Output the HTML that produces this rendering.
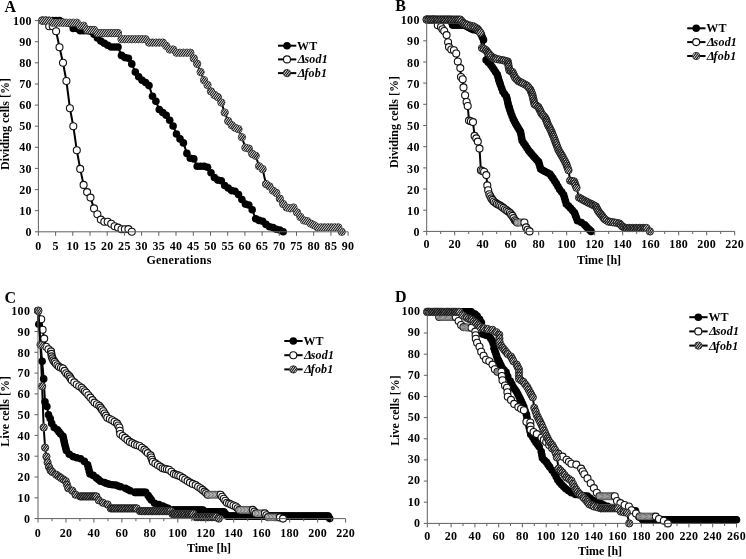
<!DOCTYPE html>
<html><head><meta charset="utf-8"><title>Figure</title>
<style>
html,body{margin:0;padding:0;background:#fff;}
body{width:746px;height:559px;overflow:hidden;}
svg{display:block;will-change:transform;opacity:0.999;}
body{-webkit-font-smoothing:antialiased;}
text{font-family:"Liberation Serif",serif;font-weight:bold;fill:#000;}
.tk{font-size:12px;letter-spacing:0.3px;}
.ti{font-size:12px;}
.lb{font-size:16px;}
.lg{font-size:12px;letter-spacing:0.2px;}
.it{font-style:italic;}
</style></head><body>
<svg width="746" height="559" viewBox="0 0 746 559">
<rect width="746" height="559" fill="#fff"/>
<g id="panelA">
<path d="M42.3,20.6 L45.8,20.6 L49.2,20.6 L52.7,20.6 L56.1,20.6 L59.5,20.6 L63,22.3 L66.4,22.7 L69.9,23.6 L73.3,28.4 L76.8,28.4 L80.2,30.7 L83.6,30.7 L87.1,30.7 L90.5,31.2 L94,34.3 L97.4,37.9 L100.8,41.1 L104.3,43.2 L107.7,45.3 L111.2,47 L114.6,47 L118,47 L121.5,55.4 L124.9,57.6 L128.4,58.2 L131.8,63.9 L135.3,72.1 L138.7,76.8 L142.1,80.2 L145.6,82.5 L149,85.6 L152.5,96.2 L155.9,101.3 L159.3,109.5 L162.8,112.5 L166.2,115.2 L169.7,120.3 L173.1,126 L176.5,134 L180,138.9 L183.4,142.9 L186.9,153.4 L190.3,158.3 L193.8,158.9 L197.2,166.3 L200.6,166.3 L204.1,166.3 L207.5,167.2 L211,172.7 L214.4,177.5 L217.8,180.1 L221.3,180.7 L224.7,185.5 L228.2,188.1 L231.6,190.6 L235,191.2 L238.5,194.6 L241.9,199.5 L245.4,204.1 L248.8,205 L252.2,209.8 L255.7,218.7 L259.1,220.4 L262.6,221.2 L266,224.4 L269.5,226.7 L272.9,227.6 L276.3,229.3 L279.8,230.1 L283.2,231.8" fill="none" stroke="#000" stroke-width="2" stroke-linejoin="round"/>
<g fill="#000" stroke="none"><circle cx="42.3" cy="20.6" r="3.8"/><circle cx="45.8" cy="20.6" r="3.8"/><circle cx="49.2" cy="20.6" r="3.8"/><circle cx="52.7" cy="20.6" r="3.8"/><circle cx="56.1" cy="20.6" r="3.8"/><circle cx="59.5" cy="20.6" r="3.8"/><circle cx="63" cy="22.3" r="3.8"/><circle cx="66.4" cy="22.7" r="3.8"/><circle cx="69.9" cy="23.6" r="3.8"/><circle cx="73.3" cy="28.4" r="3.8"/><circle cx="76.8" cy="28.4" r="3.8"/><circle cx="80.2" cy="30.7" r="3.8"/><circle cx="83.6" cy="30.7" r="3.8"/><circle cx="87.1" cy="30.7" r="3.8"/><circle cx="90.5" cy="31.2" r="3.8"/><circle cx="94" cy="34.3" r="3.8"/><circle cx="97.4" cy="37.9" r="3.8"/><circle cx="100.8" cy="41.1" r="3.8"/><circle cx="104.3" cy="43.2" r="3.8"/><circle cx="107.7" cy="45.3" r="3.8"/><circle cx="111.2" cy="47" r="3.8"/><circle cx="114.6" cy="47" r="3.8"/><circle cx="118" cy="47" r="3.8"/><circle cx="121.5" cy="55.4" r="3.8"/><circle cx="124.9" cy="57.6" r="3.8"/><circle cx="128.4" cy="58.2" r="3.8"/><circle cx="131.8" cy="63.9" r="3.8"/><circle cx="135.3" cy="72.1" r="3.8"/><circle cx="138.7" cy="76.8" r="3.8"/><circle cx="142.1" cy="80.2" r="3.8"/><circle cx="145.6" cy="82.5" r="3.8"/><circle cx="149" cy="85.6" r="3.8"/><circle cx="152.5" cy="96.2" r="3.8"/><circle cx="155.9" cy="101.3" r="3.8"/><circle cx="159.3" cy="109.5" r="3.8"/><circle cx="162.8" cy="112.5" r="3.8"/><circle cx="166.2" cy="115.2" r="3.8"/><circle cx="169.7" cy="120.3" r="3.8"/><circle cx="173.1" cy="126" r="3.8"/><circle cx="176.5" cy="134" r="3.8"/><circle cx="180" cy="138.9" r="3.8"/><circle cx="183.4" cy="142.9" r="3.8"/><circle cx="186.9" cy="153.4" r="3.8"/><circle cx="190.3" cy="158.3" r="3.8"/><circle cx="193.8" cy="158.9" r="3.8"/><circle cx="197.2" cy="166.3" r="3.8"/><circle cx="200.6" cy="166.3" r="3.8"/><circle cx="204.1" cy="166.3" r="3.8"/><circle cx="207.5" cy="167.2" r="3.8"/><circle cx="211" cy="172.7" r="3.8"/><circle cx="214.4" cy="177.5" r="3.8"/><circle cx="217.8" cy="180.1" r="3.8"/><circle cx="221.3" cy="180.7" r="3.8"/><circle cx="224.7" cy="185.5" r="3.8"/><circle cx="228.2" cy="188.1" r="3.8"/><circle cx="231.6" cy="190.6" r="3.8"/><circle cx="235" cy="191.2" r="3.8"/><circle cx="238.5" cy="194.6" r="3.8"/><circle cx="241.9" cy="199.5" r="3.8"/><circle cx="245.4" cy="204.1" r="3.8"/><circle cx="248.8" cy="205" r="3.8"/><circle cx="252.2" cy="209.8" r="3.8"/><circle cx="255.7" cy="218.7" r="3.8"/><circle cx="259.1" cy="220.4" r="3.8"/><circle cx="262.6" cy="221.2" r="3.8"/><circle cx="266" cy="224.4" r="3.8"/><circle cx="269.5" cy="226.7" r="3.8"/><circle cx="272.9" cy="227.6" r="3.8"/><circle cx="276.3" cy="229.3" r="3.8"/><circle cx="279.8" cy="230.1" r="3.8"/><circle cx="283.2" cy="231.8" r="3.8"/></g>
<path d="M42.3,20.6 L45.8,20.6 L49.2,26.3 L52.7,26.3 L56.1,31.2 L59.5,47.2 L63,62.8 L66.4,81 L69.9,108.2 L73.3,126.2 L76.8,150.3 L80.2,168.9 L83.6,184.9 L87.1,192.1 L90.5,197.6 L94,208.4 L97.4,214.3 L100.8,219.6 L104.3,221.7 L107.7,221.7 L111.2,223.8 L114.6,226.3 L118,227.6 L121.5,229.3 L124.9,229.3 L128.4,229.1 L131.8,231.8" fill="none" stroke="#000" stroke-width="2" stroke-linejoin="round"/>
<g fill="#fff" stroke="#111" stroke-width="1.1"><circle cx="42.3" cy="20.6" r="3.5"/><circle cx="45.8" cy="20.6" r="3.5"/><circle cx="49.2" cy="26.3" r="3.5"/><circle cx="52.7" cy="26.3" r="3.5"/><circle cx="56.1" cy="31.2" r="3.5"/><circle cx="59.5" cy="47.2" r="3.5"/><circle cx="63" cy="62.8" r="3.5"/><circle cx="66.4" cy="81" r="3.5"/><circle cx="69.9" cy="108.2" r="3.5"/><circle cx="73.3" cy="126.2" r="3.5"/><circle cx="76.8" cy="150.3" r="3.5"/><circle cx="80.2" cy="168.9" r="3.5"/><circle cx="83.6" cy="184.9" r="3.5"/><circle cx="87.1" cy="192.1" r="3.5"/><circle cx="90.5" cy="197.6" r="3.5"/><circle cx="94" cy="208.4" r="3.5"/><circle cx="97.4" cy="214.3" r="3.5"/><circle cx="100.8" cy="219.6" r="3.5"/><circle cx="104.3" cy="221.7" r="3.5"/><circle cx="107.7" cy="221.7" r="3.5"/><circle cx="111.2" cy="223.8" r="3.5"/><circle cx="114.6" cy="226.3" r="3.5"/><circle cx="118" cy="227.6" r="3.5"/><circle cx="121.5" cy="229.3" r="3.5"/><circle cx="124.9" cy="229.3" r="3.5"/><circle cx="128.4" cy="229.1" r="3.5"/><circle cx="131.8" cy="231.8" r="3.5"/></g>
<path d="M42.3,20.6 L45.8,20.6 L49.2,20.6 L52.7,22.7 L56.1,22.7 L59.5,22.7 L63,22.7 L66.4,22.7 L69.9,22.7 L73.3,22.7 L76.8,22.7 L80.2,25.7 L83.6,25.7 L87.1,29.9 L90.5,29.9 L94,29.9 L97.4,33.1 L100.8,33.1 L104.3,33.1 L107.7,33.1 L111.2,33.1 L114.6,33.1 L118,33.1 L121.5,39.2 L124.9,39.2 L128.4,39.2 L131.8,39.2 L135.3,39.2 L138.7,39.2 L142.1,39.2 L145.6,39.2 L149,42.6 L152.5,42.6 L155.9,42.6 L159.3,42.6 L162.8,42.6 L166.2,45.9 L169.7,49.5 L173.1,49.5 L176.5,52.7 L180,52.7 L183.4,52.7 L186.9,52.7 L190.3,52.7 L193.8,58.4 L197.2,63.9 L200.6,72.1 L204.1,80.2 L207.5,85 L211,91.4 L214.4,94.9 L217.8,97.1 L221.3,102.5 L224.7,112.5 L228.2,121.1 L231.6,125.1 L235,127.7 L238.5,129.2 L241.9,137.2 L245.4,147.7 L248.8,148.6 L252.2,153.9 L255.7,155.8 L259.1,166.3 L262.6,169.1 L266,184.1 L269.5,186.4 L272.9,190.6 L276.3,192.9 L279.8,198.6 L283.2,204.1 L286.7,207.5 L290.1,208.4 L293.5,207.5 L297,212.4 L300.4,217 L303.9,220.4 L307.3,221.2 L310.7,223.6 L314.2,225.3 L317.6,227.4 L321.1,227.4 L324.5,227.4 L328,227.4 L331.4,227.4 L334.8,227.4 L338.3,227.4 L341.7,231.8" fill="none" stroke="#000" stroke-width="2" stroke-linejoin="round"/>
<g fill="#fff" stroke="#333" stroke-width="1"><circle cx="42.3" cy="20.6" r="3.65"/><circle cx="45.8" cy="20.6" r="3.65"/><circle cx="49.2" cy="20.6" r="3.65"/><circle cx="52.7" cy="22.7" r="3.65"/><circle cx="56.1" cy="22.7" r="3.65"/><circle cx="59.5" cy="22.7" r="3.65"/><circle cx="63" cy="22.7" r="3.65"/><circle cx="66.4" cy="22.7" r="3.65"/><circle cx="69.9" cy="22.7" r="3.65"/><circle cx="73.3" cy="22.7" r="3.65"/><circle cx="76.8" cy="22.7" r="3.65"/><circle cx="80.2" cy="25.7" r="3.65"/><circle cx="83.6" cy="25.7" r="3.65"/><circle cx="87.1" cy="29.9" r="3.65"/><circle cx="90.5" cy="29.9" r="3.65"/><circle cx="94" cy="29.9" r="3.65"/><circle cx="97.4" cy="33.1" r="3.65"/><circle cx="100.8" cy="33.1" r="3.65"/><circle cx="104.3" cy="33.1" r="3.65"/><circle cx="107.7" cy="33.1" r="3.65"/><circle cx="111.2" cy="33.1" r="3.65"/><circle cx="114.6" cy="33.1" r="3.65"/><circle cx="118" cy="33.1" r="3.65"/><circle cx="121.5" cy="39.2" r="3.65"/><circle cx="124.9" cy="39.2" r="3.65"/><circle cx="128.4" cy="39.2" r="3.65"/><circle cx="131.8" cy="39.2" r="3.65"/><circle cx="135.3" cy="39.2" r="3.65"/><circle cx="138.7" cy="39.2" r="3.65"/><circle cx="142.1" cy="39.2" r="3.65"/><circle cx="145.6" cy="39.2" r="3.65"/><circle cx="149" cy="42.6" r="3.65"/><circle cx="152.5" cy="42.6" r="3.65"/><circle cx="155.9" cy="42.6" r="3.65"/><circle cx="159.3" cy="42.6" r="3.65"/><circle cx="162.8" cy="42.6" r="3.65"/><circle cx="166.2" cy="45.9" r="3.65"/><circle cx="169.7" cy="49.5" r="3.65"/><circle cx="173.1" cy="49.5" r="3.65"/><circle cx="176.5" cy="52.7" r="3.65"/><circle cx="180" cy="52.7" r="3.65"/><circle cx="183.4" cy="52.7" r="3.65"/><circle cx="186.9" cy="52.7" r="3.65"/><circle cx="190.3" cy="52.7" r="3.65"/><circle cx="193.8" cy="58.4" r="3.65"/><circle cx="197.2" cy="63.9" r="3.65"/><circle cx="200.6" cy="72.1" r="3.65"/><circle cx="204.1" cy="80.2" r="3.65"/><circle cx="207.5" cy="85" r="3.65"/><circle cx="211" cy="91.4" r="3.65"/><circle cx="214.4" cy="94.9" r="3.65"/><circle cx="217.8" cy="97.1" r="3.65"/><circle cx="221.3" cy="102.5" r="3.65"/><circle cx="224.7" cy="112.5" r="3.65"/><circle cx="228.2" cy="121.1" r="3.65"/><circle cx="231.6" cy="125.1" r="3.65"/><circle cx="235" cy="127.7" r="3.65"/><circle cx="238.5" cy="129.2" r="3.65"/><circle cx="241.9" cy="137.2" r="3.65"/><circle cx="245.4" cy="147.7" r="3.65"/><circle cx="248.8" cy="148.6" r="3.65"/><circle cx="252.2" cy="153.9" r="3.65"/><circle cx="255.7" cy="155.8" r="3.65"/><circle cx="259.1" cy="166.3" r="3.65"/><circle cx="262.6" cy="169.1" r="3.65"/><circle cx="266" cy="184.1" r="3.65"/><circle cx="269.5" cy="186.4" r="3.65"/><circle cx="272.9" cy="190.6" r="3.65"/><circle cx="276.3" cy="192.9" r="3.65"/><circle cx="279.8" cy="198.6" r="3.65"/><circle cx="283.2" cy="204.1" r="3.65"/><circle cx="286.7" cy="207.5" r="3.65"/><circle cx="290.1" cy="208.4" r="3.65"/><circle cx="293.5" cy="207.5" r="3.65"/><circle cx="297" cy="212.4" r="3.65"/><circle cx="300.4" cy="217" r="3.65"/><circle cx="303.9" cy="220.4" r="3.65"/><circle cx="307.3" cy="221.2" r="3.65"/><circle cx="310.7" cy="223.6" r="3.65"/><circle cx="314.2" cy="225.3" r="3.65"/><circle cx="317.6" cy="227.4" r="3.65"/><circle cx="321.1" cy="227.4" r="3.65"/><circle cx="324.5" cy="227.4" r="3.65"/><circle cx="328" cy="227.4" r="3.65"/><circle cx="331.4" cy="227.4" r="3.65"/><circle cx="334.8" cy="227.4" r="3.65"/><circle cx="338.3" cy="227.4" r="3.65"/><circle cx="341.7" cy="231.8" r="3.65"/></g>
<g fill="#fff" stroke="none"><circle cx="42.3" cy="20.6" r="3.2"/><circle cx="45.8" cy="20.6" r="3.2"/><circle cx="49.2" cy="20.6" r="3.2"/><circle cx="52.7" cy="22.7" r="3.2"/><circle cx="56.1" cy="22.7" r="3.2"/><circle cx="59.5" cy="22.7" r="3.2"/><circle cx="63" cy="22.7" r="3.2"/><circle cx="66.4" cy="22.7" r="3.2"/><circle cx="69.9" cy="22.7" r="3.2"/><circle cx="73.3" cy="22.7" r="3.2"/><circle cx="76.8" cy="22.7" r="3.2"/><circle cx="80.2" cy="25.7" r="3.2"/><circle cx="83.6" cy="25.7" r="3.2"/><circle cx="87.1" cy="29.9" r="3.2"/><circle cx="90.5" cy="29.9" r="3.2"/><circle cx="94" cy="29.9" r="3.2"/><circle cx="97.4" cy="33.1" r="3.2"/><circle cx="100.8" cy="33.1" r="3.2"/><circle cx="104.3" cy="33.1" r="3.2"/><circle cx="107.7" cy="33.1" r="3.2"/><circle cx="111.2" cy="33.1" r="3.2"/><circle cx="114.6" cy="33.1" r="3.2"/><circle cx="118" cy="33.1" r="3.2"/><circle cx="121.5" cy="39.2" r="3.2"/><circle cx="124.9" cy="39.2" r="3.2"/><circle cx="128.4" cy="39.2" r="3.2"/><circle cx="131.8" cy="39.2" r="3.2"/><circle cx="135.3" cy="39.2" r="3.2"/><circle cx="138.7" cy="39.2" r="3.2"/><circle cx="142.1" cy="39.2" r="3.2"/><circle cx="145.6" cy="39.2" r="3.2"/><circle cx="149" cy="42.6" r="3.2"/><circle cx="152.5" cy="42.6" r="3.2"/><circle cx="155.9" cy="42.6" r="3.2"/><circle cx="159.3" cy="42.6" r="3.2"/><circle cx="162.8" cy="42.6" r="3.2"/><circle cx="166.2" cy="45.9" r="3.2"/><circle cx="169.7" cy="49.5" r="3.2"/><circle cx="173.1" cy="49.5" r="3.2"/><circle cx="176.5" cy="52.7" r="3.2"/><circle cx="180" cy="52.7" r="3.2"/><circle cx="183.4" cy="52.7" r="3.2"/><circle cx="186.9" cy="52.7" r="3.2"/><circle cx="190.3" cy="52.7" r="3.2"/><circle cx="193.8" cy="58.4" r="3.2"/><circle cx="197.2" cy="63.9" r="3.2"/><circle cx="200.6" cy="72.1" r="3.2"/><circle cx="204.1" cy="80.2" r="3.2"/><circle cx="207.5" cy="85" r="3.2"/><circle cx="211" cy="91.4" r="3.2"/><circle cx="214.4" cy="94.9" r="3.2"/><circle cx="217.8" cy="97.1" r="3.2"/><circle cx="221.3" cy="102.5" r="3.2"/><circle cx="224.7" cy="112.5" r="3.2"/><circle cx="228.2" cy="121.1" r="3.2"/><circle cx="231.6" cy="125.1" r="3.2"/><circle cx="235" cy="127.7" r="3.2"/><circle cx="238.5" cy="129.2" r="3.2"/><circle cx="241.9" cy="137.2" r="3.2"/><circle cx="245.4" cy="147.7" r="3.2"/><circle cx="248.8" cy="148.6" r="3.2"/><circle cx="252.2" cy="153.9" r="3.2"/><circle cx="255.7" cy="155.8" r="3.2"/><circle cx="259.1" cy="166.3" r="3.2"/><circle cx="262.6" cy="169.1" r="3.2"/><circle cx="266" cy="184.1" r="3.2"/><circle cx="269.5" cy="186.4" r="3.2"/><circle cx="272.9" cy="190.6" r="3.2"/><circle cx="276.3" cy="192.9" r="3.2"/><circle cx="279.8" cy="198.6" r="3.2"/><circle cx="283.2" cy="204.1" r="3.2"/><circle cx="286.7" cy="207.5" r="3.2"/><circle cx="290.1" cy="208.4" r="3.2"/><circle cx="293.5" cy="207.5" r="3.2"/><circle cx="297" cy="212.4" r="3.2"/><circle cx="300.4" cy="217" r="3.2"/><circle cx="303.9" cy="220.4" r="3.2"/><circle cx="307.3" cy="221.2" r="3.2"/><circle cx="310.7" cy="223.6" r="3.2"/><circle cx="314.2" cy="225.3" r="3.2"/><circle cx="317.6" cy="227.4" r="3.2"/><circle cx="321.1" cy="227.4" r="3.2"/><circle cx="324.5" cy="227.4" r="3.2"/><circle cx="328" cy="227.4" r="3.2"/><circle cx="331.4" cy="227.4" r="3.2"/><circle cx="334.8" cy="227.4" r="3.2"/><circle cx="338.3" cy="227.4" r="3.2"/><circle cx="341.7" cy="231.8" r="3.2"/></g>
<clipPath id="cA"><circle cx="42.3" cy="20.6" r="3.55"/><circle cx="45.8" cy="20.6" r="3.55"/><circle cx="49.2" cy="20.6" r="3.55"/><circle cx="52.7" cy="22.7" r="3.55"/><circle cx="56.1" cy="22.7" r="3.55"/><circle cx="59.5" cy="22.7" r="3.55"/><circle cx="63" cy="22.7" r="3.55"/><circle cx="66.4" cy="22.7" r="3.55"/><circle cx="69.9" cy="22.7" r="3.55"/><circle cx="73.3" cy="22.7" r="3.55"/><circle cx="76.8" cy="22.7" r="3.55"/><circle cx="80.2" cy="25.7" r="3.55"/><circle cx="83.6" cy="25.7" r="3.55"/><circle cx="87.1" cy="29.9" r="3.55"/><circle cx="90.5" cy="29.9" r="3.55"/><circle cx="94" cy="29.9" r="3.55"/><circle cx="97.4" cy="33.1" r="3.55"/><circle cx="100.8" cy="33.1" r="3.55"/><circle cx="104.3" cy="33.1" r="3.55"/><circle cx="107.7" cy="33.1" r="3.55"/><circle cx="111.2" cy="33.1" r="3.55"/><circle cx="114.6" cy="33.1" r="3.55"/><circle cx="118" cy="33.1" r="3.55"/><circle cx="121.5" cy="39.2" r="3.55"/><circle cx="124.9" cy="39.2" r="3.55"/><circle cx="128.4" cy="39.2" r="3.55"/><circle cx="131.8" cy="39.2" r="3.55"/><circle cx="135.3" cy="39.2" r="3.55"/><circle cx="138.7" cy="39.2" r="3.55"/><circle cx="142.1" cy="39.2" r="3.55"/><circle cx="145.6" cy="39.2" r="3.55"/><circle cx="149" cy="42.6" r="3.55"/><circle cx="152.5" cy="42.6" r="3.55"/><circle cx="155.9" cy="42.6" r="3.55"/><circle cx="159.3" cy="42.6" r="3.55"/><circle cx="162.8" cy="42.6" r="3.55"/><circle cx="166.2" cy="45.9" r="3.55"/><circle cx="169.7" cy="49.5" r="3.55"/><circle cx="173.1" cy="49.5" r="3.55"/><circle cx="176.5" cy="52.7" r="3.55"/><circle cx="180" cy="52.7" r="3.55"/><circle cx="183.4" cy="52.7" r="3.55"/><circle cx="186.9" cy="52.7" r="3.55"/><circle cx="190.3" cy="52.7" r="3.55"/><circle cx="193.8" cy="58.4" r="3.55"/><circle cx="197.2" cy="63.9" r="3.55"/><circle cx="200.6" cy="72.1" r="3.55"/><circle cx="204.1" cy="80.2" r="3.55"/><circle cx="207.5" cy="85" r="3.55"/><circle cx="211" cy="91.4" r="3.55"/><circle cx="214.4" cy="94.9" r="3.55"/><circle cx="217.8" cy="97.1" r="3.55"/><circle cx="221.3" cy="102.5" r="3.55"/><circle cx="224.7" cy="112.5" r="3.55"/><circle cx="228.2" cy="121.1" r="3.55"/><circle cx="231.6" cy="125.1" r="3.55"/><circle cx="235" cy="127.7" r="3.55"/><circle cx="238.5" cy="129.2" r="3.55"/><circle cx="241.9" cy="137.2" r="3.55"/><circle cx="245.4" cy="147.7" r="3.55"/><circle cx="248.8" cy="148.6" r="3.55"/><circle cx="252.2" cy="153.9" r="3.55"/><circle cx="255.7" cy="155.8" r="3.55"/><circle cx="259.1" cy="166.3" r="3.55"/><circle cx="262.6" cy="169.1" r="3.55"/><circle cx="266" cy="184.1" r="3.55"/><circle cx="269.5" cy="186.4" r="3.55"/><circle cx="272.9" cy="190.6" r="3.55"/><circle cx="276.3" cy="192.9" r="3.55"/><circle cx="279.8" cy="198.6" r="3.55"/><circle cx="283.2" cy="204.1" r="3.55"/><circle cx="286.7" cy="207.5" r="3.55"/><circle cx="290.1" cy="208.4" r="3.55"/><circle cx="293.5" cy="207.5" r="3.55"/><circle cx="297" cy="212.4" r="3.55"/><circle cx="300.4" cy="217" r="3.55"/><circle cx="303.9" cy="220.4" r="3.55"/><circle cx="307.3" cy="221.2" r="3.55"/><circle cx="310.7" cy="223.6" r="3.55"/><circle cx="314.2" cy="225.3" r="3.55"/><circle cx="317.6" cy="227.4" r="3.55"/><circle cx="321.1" cy="227.4" r="3.55"/><circle cx="324.5" cy="227.4" r="3.55"/><circle cx="328" cy="227.4" r="3.55"/><circle cx="331.4" cy="227.4" r="3.55"/><circle cx="334.8" cy="227.4" r="3.55"/><circle cx="338.3" cy="227.4" r="3.55"/><circle cx="341.7" cy="231.8" r="3.55"/></clipPath>
<path clip-path="url(#cA)" d="M-126.3,235.8L38.1,16.6M-124,235.8L40.4,16.6M-121.7,235.8L42.7,16.6M-119.4,235.8L45,16.6M-117.1,235.8L47.3,16.6M-114.8,235.8L49.6,16.6M-112.5,235.8L51.9,16.6M-110.2,235.8L54.2,16.6M-107.9,235.8L56.5,16.6M-105.6,235.8L58.8,16.6M-103.3,235.8L61.1,16.6M-101,235.8L63.4,16.6M-98.7,235.8L65.7,16.6M-96.4,235.8L68,16.6M-94.1,235.8L70.3,16.6M-91.8,235.8L72.6,16.6M-89.5,235.8L74.9,16.6M-87.2,235.8L77.2,16.6M-84.9,235.8L79.5,16.6M-82.6,235.8L81.8,16.6M-80.3,235.8L84.1,16.6M-78,235.8L86.4,16.6M-75.7,235.8L88.7,16.6M-73.4,235.8L91,16.6M-71.1,235.8L93.3,16.6M-68.8,235.8L95.6,16.6M-66.5,235.8L97.9,16.6M-64.2,235.8L100.2,16.6M-61.9,235.8L102.5,16.6M-59.6,235.8L104.8,16.6M-57.3,235.8L107.1,16.6M-55,235.8L109.4,16.6M-52.7,235.8L111.7,16.6M-50.4,235.8L114,16.6M-48.1,235.8L116.3,16.6M-45.8,235.8L118.6,16.6M-43.5,235.8L120.9,16.6M-41.2,235.8L123.2,16.6M-38.9,235.8L125.5,16.6M-36.6,235.8L127.8,16.6M-34.3,235.8L130.1,16.6M-32,235.8L132.4,16.6M-29.7,235.8L134.8,16.6M-27.4,235.8L137.1,16.6M-25.1,235.8L139.4,16.6M-22.8,235.8L141.7,16.6M-20.4,235.8L144,16.6M-18.1,235.8L146.3,16.6M-15.8,235.8L148.6,16.6M-13.5,235.8L150.9,16.6M-11.2,235.8L153.2,16.6M-8.9,235.8L155.5,16.6M-6.6,235.8L157.8,16.6M-4.3,235.8L160.1,16.6M-2,235.8L162.4,16.6M0.3,235.8L164.7,16.6M2.6,235.8L167,16.6M4.9,235.8L169.3,16.6M7.2,235.8L171.6,16.6M9.5,235.8L173.9,16.6M11.8,235.8L176.2,16.6M14.1,235.8L178.5,16.6M16.4,235.8L180.8,16.6M18.7,235.8L183.1,16.6M21,235.8L185.4,16.6M23.3,235.8L187.7,16.6M25.6,235.8L190,16.6M27.9,235.8L192.3,16.6M30.2,235.8L194.6,16.6M32.5,235.8L196.9,16.6M34.8,235.8L199.2,16.6M37.1,235.8L201.5,16.6M39.4,235.8L203.8,16.6M41.7,235.8L206.1,16.6M44,235.8L208.4,16.6M46.3,235.8L210.7,16.6M48.6,235.8L213,16.6M50.9,235.8L215.3,16.6M53.2,235.8L217.6,16.6M55.5,235.8L219.9,16.6M57.8,235.8L222.2,16.6M60.1,235.8L224.5,16.6M62.4,235.8L226.8,16.6M64.7,235.8L229.1,16.6M67,235.8L231.4,16.6M69.3,235.8L233.7,16.6M71.6,235.8L236,16.6M73.9,235.8L238.3,16.6M76.2,235.8L240.6,16.6M78.5,235.8L242.9,16.6M80.8,235.8L245.2,16.6M83.1,235.8L247.5,16.6M85.4,235.8L249.8,16.6M87.7,235.8L252.1,16.6M90,235.8L254.4,16.6M92.3,235.8L256.7,16.6M94.6,235.8L259,16.6M96.9,235.8L261.3,16.6M99.2,235.8L263.6,16.6M101.5,235.8L265.9,16.6M103.8,235.8L268.2,16.6M106.1,235.8L270.5,16.6M108.4,235.8L272.8,16.6M110.7,235.8L275.1,16.6M113,235.8L277.4,16.6M115.3,235.8L279.7,16.6M117.6,235.8L282,16.6M119.9,235.8L284.3,16.6M122.2,235.8L286.6,16.6M124.5,235.8L288.9,16.6M126.8,235.8L291.2,16.6M129.1,235.8L293.5,16.6M131.4,235.8L295.8,16.6M133.7,235.8L298.1,16.6M136,235.8L300.4,16.6M138.3,235.8L302.7,16.6M140.6,235.8L305,16.6M142.9,235.8L307.3,16.6M145.2,235.8L309.6,16.6M147.5,235.8L311.9,16.6M149.8,235.8L314.2,16.6M152.1,235.8L316.5,16.6M154.4,235.8L318.8,16.6M156.7,235.8L321.1,16.6M159,235.8L323.4,16.6M161.3,235.8L325.7,16.6M163.6,235.8L328,16.6M165.9,235.8L330.3,16.6M168.2,235.8L332.6,16.6M170.5,235.8L334.9,16.6M172.8,235.8L337.2,16.6M175.1,235.8L339.5,16.6M177.4,235.8L341.8,16.6M179.7,235.8L344.1,16.6M182,235.8L346.4,16.6M184.3,235.8L348.7,16.6M186.6,235.8L351,16.6M188.9,235.8L353.3,16.6M191.2,235.8L355.6,16.6M193.5,235.8L357.9,16.6M195.8,235.8L360.2,16.6M198.1,235.8L362.5,16.6M200.4,235.8L364.8,16.6M202.7,235.8L367.1,16.6M205,235.8L369.4,16.6M207.3,235.8L371.7,16.6M209.6,235.8L374,16.6M211.9,235.8L376.3,16.6M214.2,235.8L378.6,16.6M216.5,235.8L380.9,16.6M218.8,235.8L383.2,16.6M221.1,235.8L385.5,16.6M223.4,235.8L387.8,16.6M225.7,235.8L390.1,16.6M228,235.8L392.4,16.6M230.3,235.8L394.7,16.6M232.6,235.8L397,16.6M234.9,235.8L399.3,16.6M237.2,235.8L401.6,16.6M239.5,235.8L403.9,16.6M241.8,235.8L406.2,16.6M244.1,235.8L408.5,16.6M246.4,235.8L410.8,16.6M248.7,235.8L413.1,16.6M251,235.8L415.4,16.6M253.3,235.8L417.7,16.6M255.6,235.8L420,16.6M257.9,235.8L422.3,16.6M260.2,235.8L424.6,16.6M262.5,235.8L426.9,16.6M264.8,235.8L429.2,16.6M267.1,235.8L431.5,16.6M269.4,235.8L433.8,16.6M271.7,235.8L436.1,16.6M274,235.8L438.4,16.6M276.3,235.8L440.7,16.6M278.6,235.8L443,16.6M280.9,235.8L445.3,16.6M283.2,235.8L447.6,16.6M285.5,235.8L449.9,16.6M287.8,235.8L452.2,16.6M290.1,235.8L454.5,16.6M292.4,235.8L456.8,16.6M294.7,235.8L459.1,16.6M297,235.8L461.4,16.6M299.3,235.8L463.7,16.6M301.6,235.8L466,16.6M303.9,235.8L468.3,16.6M306.2,235.8L470.6,16.6M308.5,235.8L472.9,16.6M310.8,235.8L475.2,16.6M313.1,235.8L477.5,16.6M315.4,235.8L479.8,16.6M317.7,235.8L482.1,16.6M320,235.8L484.4,16.6M322.3,235.8L486.7,16.6M324.6,235.8L489,16.6M326.9,235.8L491.3,16.6M329.2,235.8L493.6,16.6M331.5,235.8L495.9,16.6M333.8,235.8L498.2,16.6M336.1,235.8L500.5,16.6M338.4,235.8L502.8,16.6M340.7,235.8L505.1,16.6M343,235.8L507.4,16.6M345.3,235.8L509.7,16.6" fill="none" stroke="#111" stroke-width="1.12"/>
<path d="M38.4,20.6 V231.8 H348.1 M34.9,231.8 H38.4 M34.9,210.7 H38.4 M34.9,189.6 H38.4 M34.9,168.4 H38.4 M34.9,147.3 H38.4 M34.9,126.2 H38.4 M34.9,105.1 H38.4 M34.9,84 H38.4 M34.9,62.8 H38.4 M34.9,41.7 H38.4 M34.9,20.6 H38.4 M38.4,231.8 V235.8 M55.6,231.8 V235.8 M72.8,231.8 V235.8 M90,231.8 V235.8 M107.2,231.8 V235.8 M124.4,231.8 V235.8 M141.6,231.8 V235.8 M158.8,231.8 V235.8 M176,231.8 V235.8 M193.3,231.8 V235.8 M210.5,231.8 V235.8 M227.7,231.8 V235.8 M244.9,231.8 V235.8 M262.1,231.8 V235.8 M279.3,231.8 V235.8 M296.5,231.8 V235.8 M313.7,231.8 V235.8 M330.9,231.8 V235.8 M348.1,231.8 V235.8" fill="none" stroke="#606060" stroke-width="1"/>
<text class="tk" x="31.9" y="235.9" text-anchor="end">0</text><text class="tk" x="31.9" y="214.8" text-anchor="end">10</text><text class="tk" x="31.9" y="193.7" text-anchor="end">20</text><text class="tk" x="31.9" y="172.5" text-anchor="end">30</text><text class="tk" x="31.9" y="151.4" text-anchor="end">40</text><text class="tk" x="31.9" y="130.3" text-anchor="end">50</text><text class="tk" x="31.9" y="109.2" text-anchor="end">60</text><text class="tk" x="31.9" y="88.1" text-anchor="end">70</text><text class="tk" x="31.9" y="66.9" text-anchor="end">80</text><text class="tk" x="31.9" y="45.8" text-anchor="end">90</text><text class="tk" x="31.9" y="24.7" text-anchor="end">100</text><text class="tk" x="38.4" y="250.2" text-anchor="middle">0</text><text class="tk" x="55.6" y="250.2" text-anchor="middle">5</text><text class="tk" x="72.8" y="250.2" text-anchor="middle">10</text><text class="tk" x="90" y="250.2" text-anchor="middle">15</text><text class="tk" x="107.2" y="250.2" text-anchor="middle">20</text><text class="tk" x="124.4" y="250.2" text-anchor="middle">25</text><text class="tk" x="141.6" y="250.2" text-anchor="middle">30</text><text class="tk" x="158.8" y="250.2" text-anchor="middle">35</text><text class="tk" x="176" y="250.2" text-anchor="middle">40</text><text class="tk" x="193.3" y="250.2" text-anchor="middle">45</text><text class="tk" x="210.5" y="250.2" text-anchor="middle">50</text><text class="tk" x="227.7" y="250.2" text-anchor="middle">55</text><text class="tk" x="244.9" y="250.2" text-anchor="middle">60</text><text class="tk" x="262.1" y="250.2" text-anchor="middle">65</text><text class="tk" x="279.3" y="250.2" text-anchor="middle">70</text><text class="tk" x="296.5" y="250.2" text-anchor="middle">75</text><text class="tk" x="313.7" y="250.2" text-anchor="middle">80</text><text class="tk" x="330.9" y="250.2" text-anchor="middle">85</text><text class="tk" x="348.1" y="250.2" text-anchor="middle">90</text>
<text class="ti" transform="translate(9,124) rotate(-90)" text-anchor="middle">Dividing cells [%]</text>
<text class="ti" x="179" y="263.5" text-anchor="middle" letter-spacing="0.22">Generations</text>
<text class="lb" x="4.5" y="11.6">A</text>
<path d="M278,45.7 H296.3" stroke="#000" stroke-width="2"/><g fill="#000" stroke="none"><circle cx="287" cy="45.7" r="3.8"/></g><text class="lg" x="297.1" y="49.7">WT</text>
<path d="M278,59.4 H296.3" stroke="#000" stroke-width="2"/><g fill="#fff" stroke="#111" stroke-width="1.1"><circle cx="287" cy="59.4" r="3.5"/></g><text class="lg" transform="translate(297.1,63.4) skewX(-14)">Δ</text><text class="lg it" x="304.4" y="63.4">sod1</text>
<path d="M278,73.1 H296.3" stroke="#000" stroke-width="2"/><g fill="#fff" stroke="#333" stroke-width="1"><circle cx="287" cy="73.1" r="3.65"/></g><path d="M283.63,72.62L285.60,70.00M284.17,74.98L288.01,69.85M285.56,76.18L289.56,70.86M287.68,76.43L290.39,72.82" fill="none" stroke="#111" stroke-width="1.12"/><text class="lg" transform="translate(297.1,77.1) skewX(-14)">Δ</text><text class="lg it" x="304.4" y="77.1">fob1</text>
</g>
<g id="panelB">
<path d="M426.7,19.6 L428.1,19.6 L429.5,19.6 L430.9,19.6 L432.3,19.6 L433.7,19.6 L435.1,19.6 L436.5,19.6 L437.9,19.6 L439.3,19.6 L440.7,19.6 L442.1,19.6 L443.5,19.6 L444.9,19.6 L446.3,19.6 L447.7,19.6 L449.1,19.6 L450.5,19.6 L451.6,22.2 L452.6,24.9 L453.3,24.9 L454.7,24.9 L456.1,24.9 L457.5,24.9 L458.9,24.9 L460.3,24.9 L461.7,24.9 L463.1,24.9 L464.5,24.9 L466.6,26.3 L468.7,27.6 L470.8,28.6 L472.9,29.6 L475.7,30.1 L478.5,30.6 L479.9,32.5 L481.3,34.4 L482.4,37.2 L483.5,39.9 L484.8,49.3 L486.1,60.1 L488.4,62.5 L490.8,64.9 L492.4,67.3 L494,69.6 L495.6,72 L497.3,74.5 L498.1,77.3 L498.9,80.2 L499.7,82.6 L500.5,85 L501.7,88.3 L502.9,91.6 L504.7,94.2 L506.5,96.7 L507.2,99.6 L507.8,102.5 L508.5,105.4 L509.3,107.8 L510,110.2 L510.8,112.6 L512,115.8 L513.2,118.9 L514.5,121.4 L515.7,123.8 L516.9,125.8 L518.1,127.8 L519.3,129.8 L520.5,131.9 L521.1,134.8 L521.6,137.8 L522.2,140.7 L523.8,143.2 L525.4,145.6 L527,148.1 L528.6,150.5 L530.2,152.4 L531.8,154.3 L533.5,156.2 L535.1,158.1 L536.8,160 L538.6,161.9 L539.3,164.3 L540,166.7 L540.7,169.1 L542.8,170.3 L545,171.5 L547.5,172.7 L549.9,174 L551.4,176.2 L553,178.4 L554.7,181 L556.3,183.5 L558,186.5 L559.7,189.5 L561.7,192.1 L563.6,194.8 L564.5,197.8 L565.4,200.8 L566.3,203.9 L568.5,206.1 L570.6,208.3 L572.6,210.5 L574.5,212.8 L575.5,215.4 L576.5,218.1 L577.5,220.8 L581.4,222.5 L584.6,224.8 L586.2,226.5 L587.8,228.2 L589.5,229.8 L591.1,231.4" fill="none" stroke="#000" stroke-width="2" stroke-linejoin="round"/>
<g fill="#000" stroke="none"><circle cx="426.7" cy="19.6" r="3.8"/><circle cx="428.1" cy="19.6" r="3.8"/><circle cx="429.5" cy="19.6" r="3.8"/><circle cx="430.9" cy="19.6" r="3.8"/><circle cx="432.3" cy="19.6" r="3.8"/><circle cx="433.7" cy="19.6" r="3.8"/><circle cx="435.1" cy="19.6" r="3.8"/><circle cx="436.5" cy="19.6" r="3.8"/><circle cx="437.9" cy="19.6" r="3.8"/><circle cx="439.3" cy="19.6" r="3.8"/><circle cx="440.7" cy="19.6" r="3.8"/><circle cx="442.1" cy="19.6" r="3.8"/><circle cx="443.5" cy="19.6" r="3.8"/><circle cx="444.9" cy="19.6" r="3.8"/><circle cx="446.3" cy="19.6" r="3.8"/><circle cx="447.7" cy="19.6" r="3.8"/><circle cx="449.1" cy="19.6" r="3.8"/><circle cx="450.5" cy="19.6" r="3.8"/><circle cx="451.6" cy="22.2" r="3.8"/><circle cx="452.6" cy="24.9" r="3.8"/><circle cx="453.3" cy="24.9" r="3.8"/><circle cx="454.7" cy="24.9" r="3.8"/><circle cx="456.1" cy="24.9" r="3.8"/><circle cx="457.5" cy="24.9" r="3.8"/><circle cx="458.9" cy="24.9" r="3.8"/><circle cx="460.3" cy="24.9" r="3.8"/><circle cx="461.7" cy="24.9" r="3.8"/><circle cx="463.1" cy="24.9" r="3.8"/><circle cx="464.5" cy="24.9" r="3.8"/><circle cx="466.6" cy="26.3" r="3.8"/><circle cx="468.7" cy="27.6" r="3.8"/><circle cx="470.8" cy="28.6" r="3.8"/><circle cx="472.9" cy="29.6" r="3.8"/><circle cx="475.7" cy="30.1" r="3.8"/><circle cx="478.5" cy="30.6" r="3.8"/><circle cx="479.9" cy="32.5" r="3.8"/><circle cx="481.3" cy="34.4" r="3.8"/><circle cx="482.4" cy="37.2" r="3.8"/><circle cx="483.5" cy="39.9" r="3.8"/><circle cx="484.8" cy="49.3" r="3.8"/><circle cx="486.1" cy="60.1" r="3.8"/><circle cx="488.4" cy="62.5" r="3.8"/><circle cx="490.8" cy="64.9" r="3.8"/><circle cx="492.4" cy="67.3" r="3.8"/><circle cx="494" cy="69.6" r="3.8"/><circle cx="495.6" cy="72" r="3.8"/><circle cx="497.3" cy="74.5" r="3.8"/><circle cx="498.1" cy="77.3" r="3.8"/><circle cx="498.9" cy="80.2" r="3.8"/><circle cx="499.7" cy="82.6" r="3.8"/><circle cx="500.5" cy="85" r="3.8"/><circle cx="501.7" cy="88.3" r="3.8"/><circle cx="502.9" cy="91.6" r="3.8"/><circle cx="504.7" cy="94.2" r="3.8"/><circle cx="506.5" cy="96.7" r="3.8"/><circle cx="507.2" cy="99.6" r="3.8"/><circle cx="507.8" cy="102.5" r="3.8"/><circle cx="508.5" cy="105.4" r="3.8"/><circle cx="509.3" cy="107.8" r="3.8"/><circle cx="510" cy="110.2" r="3.8"/><circle cx="510.8" cy="112.6" r="3.8"/><circle cx="512" cy="115.8" r="3.8"/><circle cx="513.2" cy="118.9" r="3.8"/><circle cx="514.5" cy="121.4" r="3.8"/><circle cx="515.7" cy="123.8" r="3.8"/><circle cx="516.9" cy="125.8" r="3.8"/><circle cx="518.1" cy="127.8" r="3.8"/><circle cx="519.3" cy="129.8" r="3.8"/><circle cx="520.5" cy="131.9" r="3.8"/><circle cx="521.1" cy="134.8" r="3.8"/><circle cx="521.6" cy="137.8" r="3.8"/><circle cx="522.2" cy="140.7" r="3.8"/><circle cx="523.8" cy="143.2" r="3.8"/><circle cx="525.4" cy="145.6" r="3.8"/><circle cx="527" cy="148.1" r="3.8"/><circle cx="528.6" cy="150.5" r="3.8"/><circle cx="530.2" cy="152.4" r="3.8"/><circle cx="531.8" cy="154.3" r="3.8"/><circle cx="533.5" cy="156.2" r="3.8"/><circle cx="535.1" cy="158.1" r="3.8"/><circle cx="536.8" cy="160" r="3.8"/><circle cx="538.6" cy="161.9" r="3.8"/><circle cx="539.3" cy="164.3" r="3.8"/><circle cx="540" cy="166.7" r="3.8"/><circle cx="540.7" cy="169.1" r="3.8"/><circle cx="542.8" cy="170.3" r="3.8"/><circle cx="545" cy="171.5" r="3.8"/><circle cx="547.5" cy="172.7" r="3.8"/><circle cx="549.9" cy="174" r="3.8"/><circle cx="551.4" cy="176.2" r="3.8"/><circle cx="553" cy="178.4" r="3.8"/><circle cx="554.7" cy="181" r="3.8"/><circle cx="556.3" cy="183.5" r="3.8"/><circle cx="558" cy="186.5" r="3.8"/><circle cx="559.7" cy="189.5" r="3.8"/><circle cx="561.7" cy="192.1" r="3.8"/><circle cx="563.6" cy="194.8" r="3.8"/><circle cx="564.5" cy="197.8" r="3.8"/><circle cx="565.4" cy="200.8" r="3.8"/><circle cx="566.3" cy="203.9" r="3.8"/><circle cx="568.5" cy="206.1" r="3.8"/><circle cx="570.6" cy="208.3" r="3.8"/><circle cx="572.6" cy="210.5" r="3.8"/><circle cx="574.5" cy="212.8" r="3.8"/><circle cx="575.5" cy="215.4" r="3.8"/><circle cx="576.5" cy="218.1" r="3.8"/><circle cx="577.5" cy="220.8" r="3.8"/><circle cx="581.4" cy="222.5" r="3.8"/><circle cx="584.6" cy="224.8" r="3.8"/><circle cx="586.2" cy="226.5" r="3.8"/><circle cx="587.8" cy="228.2" r="3.8"/><circle cx="589.5" cy="229.8" r="3.8"/><circle cx="591.1" cy="231.4" r="3.8"/></g>
<path d="M426.7,19.6 L428.1,19.6 L429.5,19.6 L430.9,19.6 L432.3,19.6 L433.7,19.6 L437.8,25.3 L441,27 L442.5,29.3 L444.2,31 L446.6,35.1 L448.1,42.3 L449,47.1 L451.3,49.5 L453.9,50.3 L456.2,53.5 L457.8,61.5 L460.3,68.1 L461,77 L462.7,79.3 L463.5,87.4 L465.1,95.2 L466.6,102 L467.7,106 L469,120.6 L470.9,121.3 L473,122.1 L474.6,135.9 L476.3,138.4 L477.8,141.6 L479.5,148.6 L480.9,170.2 L482.4,171 L484.1,171.7 L486.3,175.1 L487.3,185.4 L488.2,190.3 L489.3,194.3 L490.3,196.3 L491.4,198.4 L492.6,199.9 L493.8,201.5 L495.4,202.7 L497,203.9 L498.6,204.7 L500.2,205.6 L501.8,206.7 L503.4,207.9 L505,209.2 L506.6,210.4 L508.2,211.6 L509.9,212.8 L511.1,214.4 L512.4,215.9 L513.6,218.1 L514.8,220.2 L516,221.3 L517.1,222.5 L517.7,222.5 L519.1,222.5 L520.5,222.5 L521.9,222.5 L523.3,222.5 L524.4,222.5 L526.1,227.4 L527.6,229.7 L529.6,231.4" fill="none" stroke="#000" stroke-width="2" stroke-linejoin="round"/>
<g fill="#fff" stroke="#111" stroke-width="1.1"><circle cx="426.7" cy="19.6" r="3.5"/><circle cx="428.1" cy="19.6" r="3.5" stroke-width="0.6"/><circle cx="429.5" cy="19.6" r="3.5" stroke-width="0.6"/><circle cx="430.9" cy="19.6" r="3.5" stroke-width="0.6"/><circle cx="432.3" cy="19.6" r="3.5" stroke-width="0.6"/><circle cx="433.7" cy="19.6" r="3.5"/><circle cx="437.8" cy="25.3" r="3.5"/><circle cx="441" cy="27" r="3.5"/><circle cx="442.5" cy="29.3" r="3.5"/><circle cx="444.2" cy="31" r="3.5"/><circle cx="446.6" cy="35.1" r="3.5"/><circle cx="448.1" cy="42.3" r="3.5"/><circle cx="449" cy="47.1" r="3.5"/><circle cx="451.3" cy="49.5" r="3.5"/><circle cx="453.9" cy="50.3" r="3.5"/><circle cx="456.2" cy="53.5" r="3.5"/><circle cx="457.8" cy="61.5" r="3.5"/><circle cx="460.3" cy="68.1" r="3.5"/><circle cx="461" cy="77" r="3.5"/><circle cx="462.7" cy="79.3" r="3.5"/><circle cx="463.5" cy="87.4" r="3.5"/><circle cx="465.1" cy="95.2" r="3.5"/><circle cx="466.6" cy="102" r="3.5"/><circle cx="467.7" cy="106" r="3.5"/><circle cx="469" cy="120.6" r="3.5"/><circle cx="470.9" cy="121.3" r="3.5"/><circle cx="473" cy="122.1" r="3.5"/><circle cx="474.6" cy="135.9" r="3.5"/><circle cx="476.3" cy="138.4" r="3.5"/><circle cx="477.8" cy="141.6" r="3.5"/><circle cx="479.5" cy="148.6" r="3.5"/><circle cx="480.9" cy="170.2" r="3.5"/><circle cx="482.4" cy="171" r="3.5"/><circle cx="484.1" cy="171.7" r="3.5"/><circle cx="486.3" cy="175.1" r="3.5"/><circle cx="487.3" cy="185.4" r="3.5"/><circle cx="488.2" cy="190.3" r="3.5"/><circle cx="489.3" cy="194.3" r="3.5"/><circle cx="490.3" cy="196.3" r="3.5"/><circle cx="491.4" cy="198.4" r="3.5"/><circle cx="492.6" cy="199.9" r="3.5"/><circle cx="493.8" cy="201.5" r="3.5"/><circle cx="495.4" cy="202.7" r="3.5"/><circle cx="497" cy="203.9" r="3.5"/><circle cx="498.6" cy="204.7" r="3.5"/><circle cx="500.2" cy="205.6" r="3.5"/><circle cx="501.8" cy="206.7" r="3.5"/><circle cx="503.4" cy="207.9" r="3.5"/><circle cx="505" cy="209.2" r="3.5"/><circle cx="506.6" cy="210.4" r="3.5"/><circle cx="508.2" cy="211.6" r="3.5"/><circle cx="509.9" cy="212.8" r="3.5"/><circle cx="511.1" cy="214.4" r="3.5"/><circle cx="512.4" cy="215.9" r="3.5"/><circle cx="513.6" cy="218.1" r="3.5"/><circle cx="514.8" cy="220.2" r="3.5"/><circle cx="516" cy="221.3" r="3.5"/><circle cx="517.1" cy="222.5" r="3.5"/><circle cx="517.7" cy="222.5" r="3.5" stroke-width="0.6"/><circle cx="519.1" cy="222.5" r="3.5" stroke-width="0.6"/><circle cx="520.5" cy="222.5" r="3.5" stroke-width="0.6"/><circle cx="521.9" cy="222.5" r="3.5" stroke-width="0.6"/><circle cx="523.3" cy="222.5" r="3.5" stroke-width="0.6"/><circle cx="524.4" cy="222.5" r="3.5"/><circle cx="526.1" cy="227.4" r="3.5"/><circle cx="527.6" cy="229.7" r="3.5"/><circle cx="529.6" cy="231.4" r="3.5"/></g>
<path d="M426.7,19.6 L428.1,19.6 L429.5,19.6 L430.9,19.6 L432.3,19.6 L433.7,19.6 L435.1,19.6 L436.5,19.6 L437.9,19.6 L439.3,19.6 L440.7,19.6 L442.1,19.6 L443.5,19.6 L444.9,19.6 L446.3,19.6 L447.7,19.6 L449.1,19.6 L450.5,19.6 L451.9,19.6 L453.3,19.6 L454.7,19.6 L456.1,19.6 L457.5,19.6 L458.9,19.6 L460.3,19.6 L461.9,21.3 L463.5,23 L465.1,23.8 L466.7,24.5 L468.3,25.3 L470.7,25.7 L473.2,26.2 L475.1,27.3 L477.1,28.5 L478.2,29.8 L479.2,31.2 L480.3,32.5 L482,48 L484,49.1 L486.1,50.3 L487.1,51.7 L488.2,53 L489.3,54.3 L490.9,55.9 L492.5,57.5 L494.1,58.1 L495.7,58.6 L497.3,59.2 L499.7,59.6 L502.2,60.1 L504,60.5 L505.9,61 L507.8,61.5 L508.1,63.3 L508.4,65.1 L508.7,66.9 L509,68.7 L509.4,70.4 L510.9,71.3 L512.5,72.1 L513.4,74 L514.2,75.8 L515,77.6 L516.6,79.3 L518.3,81 L519.8,81.8 L521.4,82.6 L523,83.4 L525,84.5 L527.1,85.7 L528.7,87.6 L530.3,89.5 L531,91.3 L531.7,93 L532.4,94.8 L532.8,96.7 L533.2,98.6 L533.7,100.5 L534.1,102.4 L534.5,104.3 L536.4,105.6 L538.3,106.9 L539.1,108.5 L539.9,110.1 L540.7,111.8 L541.5,113.4 L542.8,115 L544.1,116.5 L545.4,118.1 L546.1,119.7 L546.7,121.4 L547.3,123 L547.9,124.7 L548.7,126.2 L549.6,127.8 L550.4,129.4 L551.2,131 L552,132.9 L552.7,134.8 L553.5,136.7 L554.3,138.8 L555.1,141 L555.9,143.1 L556.7,145.3 L557.5,147.5 L558.3,149.6 L559.2,151.2 L560.2,152.8 L561.1,154.4 L562.1,156 L563.1,157.9 L564.1,159.8 L565.1,161.7 L566.1,163.6 L566.9,165.8 L567.7,168 L568.5,170.2 L570.1,180.6 L572.1,181 L574.1,181.4 L574.9,183.5 L575.7,185.7 L576.5,187.8 L579,197.5 L581,198.7 L582.9,199.8 L584.6,200.7 L586.2,201.5 L587.8,202.4 L589.4,203.2 L591,203.9 L592.6,204.7 L594.2,205.6 L595.8,206.4 L596.7,208 L597.5,209.7 L598.3,211.3 L599.4,212.6 L600.5,214 L601.6,215.3 L602.6,216.6 L603.7,218 L604.8,219.3 L606.7,220.5 L608.7,221.7 L610.6,221.9 L612.5,222.2 L614.4,222.5 L616.8,222.9 L619.2,223.4 L620.8,224.9 L622.4,226.5 L624,227.3 L625.6,228 L626.9,228 L628.3,228 L629.7,228 L631.1,228 L632.5,228 L633.9,228 L635.3,228 L636.7,228 L638.1,228 L639.5,228 L640.9,228 L642.3,228 L643.7,228 L645.1,228 L646.5,228 L649.9,231.4" fill="none" stroke="#000" stroke-width="2" stroke-linejoin="round"/>
<g fill="#fff" stroke="#333" stroke-width="1"><circle cx="426.7" cy="19.6" r="3.65"/><circle cx="428.1" cy="19.6" r="3.65"/><circle cx="429.5" cy="19.6" r="3.65"/><circle cx="430.9" cy="19.6" r="3.65"/><circle cx="432.3" cy="19.6" r="3.65"/><circle cx="433.7" cy="19.6" r="3.65"/><circle cx="435.1" cy="19.6" r="3.65"/><circle cx="436.5" cy="19.6" r="3.65"/><circle cx="437.9" cy="19.6" r="3.65"/><circle cx="439.3" cy="19.6" r="3.65"/><circle cx="440.7" cy="19.6" r="3.65"/><circle cx="442.1" cy="19.6" r="3.65"/><circle cx="443.5" cy="19.6" r="3.65"/><circle cx="444.9" cy="19.6" r="3.65"/><circle cx="446.3" cy="19.6" r="3.65"/><circle cx="447.7" cy="19.6" r="3.65"/><circle cx="449.1" cy="19.6" r="3.65"/><circle cx="450.5" cy="19.6" r="3.65"/><circle cx="451.9" cy="19.6" r="3.65"/><circle cx="453.3" cy="19.6" r="3.65"/><circle cx="454.7" cy="19.6" r="3.65"/><circle cx="456.1" cy="19.6" r="3.65"/><circle cx="457.5" cy="19.6" r="3.65"/><circle cx="458.9" cy="19.6" r="3.65"/><circle cx="460.3" cy="19.6" r="3.65"/><circle cx="461.9" cy="21.3" r="3.65"/><circle cx="463.5" cy="23" r="3.65"/><circle cx="465.1" cy="23.8" r="3.65"/><circle cx="466.7" cy="24.5" r="3.65"/><circle cx="468.3" cy="25.3" r="3.65"/><circle cx="470.7" cy="25.7" r="3.65"/><circle cx="473.2" cy="26.2" r="3.65"/><circle cx="475.1" cy="27.3" r="3.65"/><circle cx="477.1" cy="28.5" r="3.65"/><circle cx="478.2" cy="29.8" r="3.65"/><circle cx="479.2" cy="31.2" r="3.65"/><circle cx="480.3" cy="32.5" r="3.65"/><circle cx="482" cy="48" r="3.65"/><circle cx="484" cy="49.1" r="3.65"/><circle cx="486.1" cy="50.3" r="3.65"/><circle cx="487.1" cy="51.7" r="3.65"/><circle cx="488.2" cy="53" r="3.65"/><circle cx="489.3" cy="54.3" r="3.65"/><circle cx="490.9" cy="55.9" r="3.65"/><circle cx="492.5" cy="57.5" r="3.65"/><circle cx="494.1" cy="58.1" r="3.65"/><circle cx="495.7" cy="58.6" r="3.65"/><circle cx="497.3" cy="59.2" r="3.65"/><circle cx="499.7" cy="59.6" r="3.65"/><circle cx="502.2" cy="60.1" r="3.65"/><circle cx="504" cy="60.5" r="3.65"/><circle cx="505.9" cy="61" r="3.65"/><circle cx="507.8" cy="61.5" r="3.65"/><circle cx="508.1" cy="63.3" r="3.65"/><circle cx="508.4" cy="65.1" r="3.65"/><circle cx="508.7" cy="66.9" r="3.65"/><circle cx="509" cy="68.7" r="3.65"/><circle cx="509.4" cy="70.4" r="3.65"/><circle cx="510.9" cy="71.3" r="3.65"/><circle cx="512.5" cy="72.1" r="3.65"/><circle cx="513.4" cy="74" r="3.65"/><circle cx="514.2" cy="75.8" r="3.65"/><circle cx="515" cy="77.6" r="3.65"/><circle cx="516.6" cy="79.3" r="3.65"/><circle cx="518.3" cy="81" r="3.65"/><circle cx="519.8" cy="81.8" r="3.65"/><circle cx="521.4" cy="82.6" r="3.65"/><circle cx="523" cy="83.4" r="3.65"/><circle cx="525" cy="84.5" r="3.65"/><circle cx="527.1" cy="85.7" r="3.65"/><circle cx="528.7" cy="87.6" r="3.65"/><circle cx="530.3" cy="89.5" r="3.65"/><circle cx="531" cy="91.3" r="3.65"/><circle cx="531.7" cy="93" r="3.65"/><circle cx="532.4" cy="94.8" r="3.65"/><circle cx="532.8" cy="96.7" r="3.65"/><circle cx="533.2" cy="98.6" r="3.65"/><circle cx="533.7" cy="100.5" r="3.65"/><circle cx="534.1" cy="102.4" r="3.65"/><circle cx="534.5" cy="104.3" r="3.65"/><circle cx="536.4" cy="105.6" r="3.65"/><circle cx="538.3" cy="106.9" r="3.65"/><circle cx="539.1" cy="108.5" r="3.65"/><circle cx="539.9" cy="110.1" r="3.65"/><circle cx="540.7" cy="111.8" r="3.65"/><circle cx="541.5" cy="113.4" r="3.65"/><circle cx="542.8" cy="115" r="3.65"/><circle cx="544.1" cy="116.5" r="3.65"/><circle cx="545.4" cy="118.1" r="3.65"/><circle cx="546.1" cy="119.7" r="3.65"/><circle cx="546.7" cy="121.4" r="3.65"/><circle cx="547.3" cy="123" r="3.65"/><circle cx="547.9" cy="124.7" r="3.65"/><circle cx="548.7" cy="126.2" r="3.65"/><circle cx="549.6" cy="127.8" r="3.65"/><circle cx="550.4" cy="129.4" r="3.65"/><circle cx="551.2" cy="131" r="3.65"/><circle cx="552" cy="132.9" r="3.65"/><circle cx="552.7" cy="134.8" r="3.65"/><circle cx="553.5" cy="136.7" r="3.65"/><circle cx="554.3" cy="138.8" r="3.65"/><circle cx="555.1" cy="141" r="3.65"/><circle cx="555.9" cy="143.1" r="3.65"/><circle cx="556.7" cy="145.3" r="3.65"/><circle cx="557.5" cy="147.5" r="3.65"/><circle cx="558.3" cy="149.6" r="3.65"/><circle cx="559.2" cy="151.2" r="3.65"/><circle cx="560.2" cy="152.8" r="3.65"/><circle cx="561.1" cy="154.4" r="3.65"/><circle cx="562.1" cy="156" r="3.65"/><circle cx="563.1" cy="157.9" r="3.65"/><circle cx="564.1" cy="159.8" r="3.65"/><circle cx="565.1" cy="161.7" r="3.65"/><circle cx="566.1" cy="163.6" r="3.65"/><circle cx="566.9" cy="165.8" r="3.65"/><circle cx="567.7" cy="168" r="3.65"/><circle cx="568.5" cy="170.2" r="3.65"/><circle cx="570.1" cy="180.6" r="3.65"/><circle cx="572.1" cy="181" r="3.65"/><circle cx="574.1" cy="181.4" r="3.65"/><circle cx="574.9" cy="183.5" r="3.65"/><circle cx="575.7" cy="185.7" r="3.65"/><circle cx="576.5" cy="187.8" r="3.65"/><circle cx="579" cy="197.5" r="3.65"/><circle cx="581" cy="198.7" r="3.65"/><circle cx="582.9" cy="199.8" r="3.65"/><circle cx="584.6" cy="200.7" r="3.65"/><circle cx="586.2" cy="201.5" r="3.65"/><circle cx="587.8" cy="202.4" r="3.65"/><circle cx="589.4" cy="203.2" r="3.65"/><circle cx="591" cy="203.9" r="3.65"/><circle cx="592.6" cy="204.7" r="3.65"/><circle cx="594.2" cy="205.6" r="3.65"/><circle cx="595.8" cy="206.4" r="3.65"/><circle cx="596.7" cy="208" r="3.65"/><circle cx="597.5" cy="209.7" r="3.65"/><circle cx="598.3" cy="211.3" r="3.65"/><circle cx="599.4" cy="212.6" r="3.65"/><circle cx="600.5" cy="214" r="3.65"/><circle cx="601.6" cy="215.3" r="3.65"/><circle cx="602.6" cy="216.6" r="3.65"/><circle cx="603.7" cy="218" r="3.65"/><circle cx="604.8" cy="219.3" r="3.65"/><circle cx="606.7" cy="220.5" r="3.65"/><circle cx="608.7" cy="221.7" r="3.65"/><circle cx="610.6" cy="221.9" r="3.65"/><circle cx="612.5" cy="222.2" r="3.65"/><circle cx="614.4" cy="222.5" r="3.65"/><circle cx="616.8" cy="222.9" r="3.65"/><circle cx="619.2" cy="223.4" r="3.65"/><circle cx="620.8" cy="224.9" r="3.65"/><circle cx="622.4" cy="226.5" r="3.65"/><circle cx="624" cy="227.3" r="3.65"/><circle cx="625.6" cy="228" r="3.65"/><circle cx="626.9" cy="228" r="3.65"/><circle cx="628.3" cy="228" r="3.65"/><circle cx="629.7" cy="228" r="3.65"/><circle cx="631.1" cy="228" r="3.65"/><circle cx="632.5" cy="228" r="3.65"/><circle cx="633.9" cy="228" r="3.65"/><circle cx="635.3" cy="228" r="3.65"/><circle cx="636.7" cy="228" r="3.65"/><circle cx="638.1" cy="228" r="3.65"/><circle cx="639.5" cy="228" r="3.65"/><circle cx="640.9" cy="228" r="3.65"/><circle cx="642.3" cy="228" r="3.65"/><circle cx="643.7" cy="228" r="3.65"/><circle cx="645.1" cy="228" r="3.65"/><circle cx="646.5" cy="228" r="3.65"/><circle cx="649.9" cy="231.4" r="3.65"/></g>
<clipPath id="cB"><circle cx="426.7" cy="19.6" r="3.55"/><circle cx="428.1" cy="19.6" r="3.55"/><circle cx="429.5" cy="19.6" r="3.55"/><circle cx="430.9" cy="19.6" r="3.55"/><circle cx="432.3" cy="19.6" r="3.55"/><circle cx="433.7" cy="19.6" r="3.55"/><circle cx="435.1" cy="19.6" r="3.55"/><circle cx="436.5" cy="19.6" r="3.55"/><circle cx="437.9" cy="19.6" r="3.55"/><circle cx="439.3" cy="19.6" r="3.55"/><circle cx="440.7" cy="19.6" r="3.55"/><circle cx="442.1" cy="19.6" r="3.55"/><circle cx="443.5" cy="19.6" r="3.55"/><circle cx="444.9" cy="19.6" r="3.55"/><circle cx="446.3" cy="19.6" r="3.55"/><circle cx="447.7" cy="19.6" r="3.55"/><circle cx="449.1" cy="19.6" r="3.55"/><circle cx="450.5" cy="19.6" r="3.55"/><circle cx="451.9" cy="19.6" r="3.55"/><circle cx="453.3" cy="19.6" r="3.55"/><circle cx="454.7" cy="19.6" r="3.55"/><circle cx="456.1" cy="19.6" r="3.55"/><circle cx="457.5" cy="19.6" r="3.55"/><circle cx="458.9" cy="19.6" r="3.55"/><circle cx="460.3" cy="19.6" r="3.55"/><circle cx="461.9" cy="21.3" r="3.55"/><circle cx="463.5" cy="23" r="3.55"/><circle cx="465.1" cy="23.8" r="3.55"/><circle cx="466.7" cy="24.5" r="3.55"/><circle cx="468.3" cy="25.3" r="3.55"/><circle cx="470.7" cy="25.7" r="3.55"/><circle cx="473.2" cy="26.2" r="3.55"/><circle cx="475.1" cy="27.3" r="3.55"/><circle cx="477.1" cy="28.5" r="3.55"/><circle cx="478.2" cy="29.8" r="3.55"/><circle cx="479.2" cy="31.2" r="3.55"/><circle cx="480.3" cy="32.5" r="3.55"/><circle cx="482" cy="48" r="3.55"/><circle cx="484" cy="49.1" r="3.55"/><circle cx="486.1" cy="50.3" r="3.55"/><circle cx="487.1" cy="51.7" r="3.55"/><circle cx="488.2" cy="53" r="3.55"/><circle cx="489.3" cy="54.3" r="3.55"/><circle cx="490.9" cy="55.9" r="3.55"/><circle cx="492.5" cy="57.5" r="3.55"/><circle cx="494.1" cy="58.1" r="3.55"/><circle cx="495.7" cy="58.6" r="3.55"/><circle cx="497.3" cy="59.2" r="3.55"/><circle cx="499.7" cy="59.6" r="3.55"/><circle cx="502.2" cy="60.1" r="3.55"/><circle cx="504" cy="60.5" r="3.55"/><circle cx="505.9" cy="61" r="3.55"/><circle cx="507.8" cy="61.5" r="3.55"/><circle cx="508.1" cy="63.3" r="3.55"/><circle cx="508.4" cy="65.1" r="3.55"/><circle cx="508.7" cy="66.9" r="3.55"/><circle cx="509" cy="68.7" r="3.55"/><circle cx="509.4" cy="70.4" r="3.55"/><circle cx="510.9" cy="71.3" r="3.55"/><circle cx="512.5" cy="72.1" r="3.55"/><circle cx="513.4" cy="74" r="3.55"/><circle cx="514.2" cy="75.8" r="3.55"/><circle cx="515" cy="77.6" r="3.55"/><circle cx="516.6" cy="79.3" r="3.55"/><circle cx="518.3" cy="81" r="3.55"/><circle cx="519.8" cy="81.8" r="3.55"/><circle cx="521.4" cy="82.6" r="3.55"/><circle cx="523" cy="83.4" r="3.55"/><circle cx="525" cy="84.5" r="3.55"/><circle cx="527.1" cy="85.7" r="3.55"/><circle cx="528.7" cy="87.6" r="3.55"/><circle cx="530.3" cy="89.5" r="3.55"/><circle cx="531" cy="91.3" r="3.55"/><circle cx="531.7" cy="93" r="3.55"/><circle cx="532.4" cy="94.8" r="3.55"/><circle cx="532.8" cy="96.7" r="3.55"/><circle cx="533.2" cy="98.6" r="3.55"/><circle cx="533.7" cy="100.5" r="3.55"/><circle cx="534.1" cy="102.4" r="3.55"/><circle cx="534.5" cy="104.3" r="3.55"/><circle cx="536.4" cy="105.6" r="3.55"/><circle cx="538.3" cy="106.9" r="3.55"/><circle cx="539.1" cy="108.5" r="3.55"/><circle cx="539.9" cy="110.1" r="3.55"/><circle cx="540.7" cy="111.8" r="3.55"/><circle cx="541.5" cy="113.4" r="3.55"/><circle cx="542.8" cy="115" r="3.55"/><circle cx="544.1" cy="116.5" r="3.55"/><circle cx="545.4" cy="118.1" r="3.55"/><circle cx="546.1" cy="119.7" r="3.55"/><circle cx="546.7" cy="121.4" r="3.55"/><circle cx="547.3" cy="123" r="3.55"/><circle cx="547.9" cy="124.7" r="3.55"/><circle cx="548.7" cy="126.2" r="3.55"/><circle cx="549.6" cy="127.8" r="3.55"/><circle cx="550.4" cy="129.4" r="3.55"/><circle cx="551.2" cy="131" r="3.55"/><circle cx="552" cy="132.9" r="3.55"/><circle cx="552.7" cy="134.8" r="3.55"/><circle cx="553.5" cy="136.7" r="3.55"/><circle cx="554.3" cy="138.8" r="3.55"/><circle cx="555.1" cy="141" r="3.55"/><circle cx="555.9" cy="143.1" r="3.55"/><circle cx="556.7" cy="145.3" r="3.55"/><circle cx="557.5" cy="147.5" r="3.55"/><circle cx="558.3" cy="149.6" r="3.55"/><circle cx="559.2" cy="151.2" r="3.55"/><circle cx="560.2" cy="152.8" r="3.55"/><circle cx="561.1" cy="154.4" r="3.55"/><circle cx="562.1" cy="156" r="3.55"/><circle cx="563.1" cy="157.9" r="3.55"/><circle cx="564.1" cy="159.8" r="3.55"/><circle cx="565.1" cy="161.7" r="3.55"/><circle cx="566.1" cy="163.6" r="3.55"/><circle cx="566.9" cy="165.8" r="3.55"/><circle cx="567.7" cy="168" r="3.55"/><circle cx="568.5" cy="170.2" r="3.55"/><circle cx="570.1" cy="180.6" r="3.55"/><circle cx="572.1" cy="181" r="3.55"/><circle cx="574.1" cy="181.4" r="3.55"/><circle cx="574.9" cy="183.5" r="3.55"/><circle cx="575.7" cy="185.7" r="3.55"/><circle cx="576.5" cy="187.8" r="3.55"/><circle cx="579" cy="197.5" r="3.55"/><circle cx="581" cy="198.7" r="3.55"/><circle cx="582.9" cy="199.8" r="3.55"/><circle cx="584.6" cy="200.7" r="3.55"/><circle cx="586.2" cy="201.5" r="3.55"/><circle cx="587.8" cy="202.4" r="3.55"/><circle cx="589.4" cy="203.2" r="3.55"/><circle cx="591" cy="203.9" r="3.55"/><circle cx="592.6" cy="204.7" r="3.55"/><circle cx="594.2" cy="205.6" r="3.55"/><circle cx="595.8" cy="206.4" r="3.55"/><circle cx="596.7" cy="208" r="3.55"/><circle cx="597.5" cy="209.7" r="3.55"/><circle cx="598.3" cy="211.3" r="3.55"/><circle cx="599.4" cy="212.6" r="3.55"/><circle cx="600.5" cy="214" r="3.55"/><circle cx="601.6" cy="215.3" r="3.55"/><circle cx="602.6" cy="216.6" r="3.55"/><circle cx="603.7" cy="218" r="3.55"/><circle cx="604.8" cy="219.3" r="3.55"/><circle cx="606.7" cy="220.5" r="3.55"/><circle cx="608.7" cy="221.7" r="3.55"/><circle cx="610.6" cy="221.9" r="3.55"/><circle cx="612.5" cy="222.2" r="3.55"/><circle cx="614.4" cy="222.5" r="3.55"/><circle cx="616.8" cy="222.9" r="3.55"/><circle cx="619.2" cy="223.4" r="3.55"/><circle cx="620.8" cy="224.9" r="3.55"/><circle cx="622.4" cy="226.5" r="3.55"/><circle cx="624" cy="227.3" r="3.55"/><circle cx="625.6" cy="228" r="3.55"/><circle cx="626.9" cy="228" r="3.55"/><circle cx="628.3" cy="228" r="3.55"/><circle cx="629.7" cy="228" r="3.55"/><circle cx="631.1" cy="228" r="3.55"/><circle cx="632.5" cy="228" r="3.55"/><circle cx="633.9" cy="228" r="3.55"/><circle cx="635.3" cy="228" r="3.55"/><circle cx="636.7" cy="228" r="3.55"/><circle cx="638.1" cy="228" r="3.55"/><circle cx="639.5" cy="228" r="3.55"/><circle cx="640.9" cy="228" r="3.55"/><circle cx="642.3" cy="228" r="3.55"/><circle cx="643.7" cy="228" r="3.55"/><circle cx="645.1" cy="228" r="3.55"/><circle cx="646.5" cy="228" r="3.55"/><circle cx="649.9" cy="231.4" r="3.55"/></clipPath>
<path clip-path="url(#cB)" d="M255.8,235.4L420.7,15.6M258.1,235.4L423,15.6M260.4,235.4L425.3,15.6M262.8,235.4L427.6,15.6M265.1,235.4L429.9,15.6M267.4,235.4L432.2,15.6M269.7,235.4L434.5,15.6M272,235.4L436.8,15.6M274.3,235.4L439.1,15.6M276.6,235.4L441.4,15.6M278.9,235.4L443.7,15.6M281.2,235.4L446,15.6M283.5,235.4L448.3,15.6M285.8,235.4L450.6,15.6M288.1,235.4L452.9,15.6M290.4,235.4L455.2,15.6M292.7,235.4L457.5,15.6M295,235.4L459.8,15.6M297.3,235.4L462.1,15.6M299.6,235.4L464.4,15.6M301.9,235.4L466.7,15.6M304.2,235.4L469,15.6M306.5,235.4L471.3,15.6M308.8,235.4L473.6,15.6M311.1,235.4L475.9,15.6M313.4,235.4L478.2,15.6M315.7,235.4L480.5,15.6M318,235.4L482.8,15.6M320.3,235.4L485.1,15.6M322.6,235.4L487.4,15.6M324.9,235.4L489.7,15.6M327.2,235.4L492,15.6M329.5,235.4L494.3,15.6M331.8,235.4L496.6,15.6M334.1,235.4L498.9,15.6M336.4,235.4L501.2,15.6M338.7,235.4L503.5,15.6M341,235.4L505.8,15.6M343.3,235.4L508.1,15.6M345.6,235.4L510.4,15.6M347.9,235.4L512.7,15.6M350.2,235.4L515,15.6M352.4,235.4L517.3,15.6M354.7,235.4L519.6,15.6M357,235.4L521.9,15.6M359.3,235.4L524.2,15.6M361.6,235.4L526.5,15.6M363.9,235.4L528.8,15.6M366.2,235.4L531.1,15.6M368.5,235.4L533.4,15.6M370.8,235.4L535.7,15.6M373.1,235.4L538,15.6M375.4,235.4L540.3,15.6M377.7,235.4L542.6,15.6M380,235.4L544.9,15.6M382.3,235.4L547.2,15.6M384.6,235.4L549.5,15.6M386.9,235.4L551.8,15.6M389.2,235.4L554.1,15.6M391.5,235.4L556.4,15.6M393.8,235.4L558.7,15.6M396.1,235.4L561,15.6M398.4,235.4L563.3,15.6M400.7,235.4L565.6,15.6M403,235.4L567.9,15.6M405.3,235.4L570.2,15.6M407.6,235.4L572.5,15.6M409.9,235.4L574.8,15.6M412.2,235.4L577.1,15.6M414.5,235.4L579.4,15.6M416.8,235.4L581.7,15.6M419.1,235.4L584,15.6M421.4,235.4L586.3,15.6M423.7,235.4L588.6,15.6M426,235.4L590.9,15.6M428.3,235.4L593.2,15.6M430.6,235.4L595.5,15.6M432.9,235.4L597.8,15.6M435.2,235.4L600.1,15.6M437.5,235.4L602.4,15.6M439.8,235.4L604.7,15.6M442.1,235.4L607,15.6M444.4,235.4L609.3,15.6M446.7,235.4L611.6,15.6M449,235.4L613.9,15.6M451.3,235.4L616.2,15.6M453.6,235.4L618.5,15.6M455.9,235.4L620.8,15.6M458.2,235.4L623.1,15.6M460.5,235.4L625.4,15.6M462.8,235.4L627.7,15.6M465.1,235.4L630,15.6M467.4,235.4L632.3,15.6M469.7,235.4L634.6,15.6M472,235.4L636.9,15.6M474.3,235.4L639.2,15.6M476.6,235.4L641.5,15.6M478.9,235.4L643.8,15.6M481.2,235.4L646.1,15.6M483.5,235.4L648.4,15.6M485.8,235.4L650.7,15.6M488.1,235.4L653,15.6M490.4,235.4L655.3,15.6M492.7,235.4L657.6,15.6M495,235.4L659.9,15.6M497.3,235.4L662.2,15.6M499.6,235.4L664.5,15.6M501.9,235.4L666.8,15.6M504.2,235.4L669.1,15.6M506.5,235.4L671.4,15.6M508.8,235.4L673.7,15.6M511.1,235.4L676,15.6M513.4,235.4L678.3,15.6M515.7,235.4L680.6,15.6M518,235.4L682.9,15.6M520.3,235.4L685.2,15.6M522.6,235.4L687.5,15.6M524.9,235.4L689.8,15.6M527.2,235.4L692.1,15.6M529.5,235.4L694.4,15.6M531.8,235.4L696.7,15.6M534.1,235.4L699,15.6M536.4,235.4L701.3,15.6M538.7,235.4L703.6,15.6M541,235.4L705.9,15.6M543.3,235.4L708.2,15.6M545.6,235.4L710.5,15.6M547.9,235.4L712.8,15.6M550.2,235.4L715.1,15.6M552.5,235.4L717.4,15.6M554.8,235.4L719.7,15.6M557.1,235.4L722,15.6M559.4,235.4L724.3,15.6M561.7,235.4L726.6,15.6M564,235.4L728.9,15.6M566.3,235.4L731.2,15.6M568.6,235.4L733.5,15.6M570.9,235.4L735.8,15.6M573.2,235.4L738.1,15.6M575.5,235.4L740.4,15.6M577.8,235.4L742.7,15.6M580.1,235.4L745,15.6M582.4,235.4L747.3,15.6M584.7,235.4L749.6,15.6M587,235.4L751.9,15.6M589.3,235.4L754.2,15.6M591.6,235.4L756.5,15.6M593.9,235.4L758.8,15.6M596.2,235.4L761.1,15.6M598.5,235.4L763.4,15.6M600.8,235.4L765.7,15.6M603.1,235.4L768,15.6M605.4,235.4L770.3,15.6M607.7,235.4L772.6,15.6M610,235.4L774.9,15.6M612.3,235.4L777.2,15.6M614.6,235.4L779.5,15.6M616.9,235.4L781.8,15.6M619.2,235.4L784.1,15.6M621.5,235.4L786.4,15.6M623.8,235.4L788.7,15.6M626.1,235.4L791,15.6M628.4,235.4L793.3,15.6M630.7,235.4L795.6,15.6M633,235.4L797.9,15.6M635.3,235.4L800.2,15.6M637.6,235.4L802.5,15.6M639.9,235.4L804.8,15.6M642.2,235.4L807.1,15.6M644.5,235.4L809.4,15.6M646.8,235.4L811.7,15.6M649.1,235.4L814,15.6M651.4,235.4L816.3,15.6M653.7,235.4L818.6,15.6" fill="none" stroke="#111" stroke-width="1.12"/>
<path d="M426.7,19.6 V231.4 H734.7 M423.2,231.4 H426.7 M423.2,210.2 H426.7 M423.2,189 H426.7 M423.2,167.9 H426.7 M423.2,146.7 H426.7 M423.2,125.5 H426.7 M423.2,104.3 H426.7 M423.2,83.1 H426.7 M423.2,62 H426.7 M423.2,40.8 H426.7 M423.2,19.6 H426.7 M426.7,231.4 V235.4 M440.7,231.4 V234 M454.7,231.4 V235.4 M468.7,231.4 V234 M482.7,231.4 V235.4 M496.7,231.4 V234 M510.7,231.4 V235.4 M524.7,231.4 V234 M538.7,231.4 V235.4 M552.7,231.4 V234 M566.7,231.4 V235.4 M580.7,231.4 V234 M594.7,231.4 V235.4 M608.7,231.4 V234 M622.7,231.4 V235.4 M636.7,231.4 V234 M650.7,231.4 V235.4 M664.7,231.4 V234 M678.7,231.4 V235.4 M692.7,231.4 V234 M706.7,231.4 V235.4 M720.7,231.4 V234 M734.7,231.4 V235.4" fill="none" stroke="#606060" stroke-width="1"/>
<text class="tk" x="419.7" y="236" text-anchor="end">0</text><text class="tk" x="419.7" y="214.8" text-anchor="end">10</text><text class="tk" x="419.7" y="193.6" text-anchor="end">20</text><text class="tk" x="419.7" y="172.5" text-anchor="end">30</text><text class="tk" x="419.7" y="151.3" text-anchor="end">40</text><text class="tk" x="419.7" y="130.1" text-anchor="end">50</text><text class="tk" x="419.7" y="108.9" text-anchor="end">60</text><text class="tk" x="419.7" y="87.7" text-anchor="end">70</text><text class="tk" x="419.7" y="66.6" text-anchor="end">80</text><text class="tk" x="419.7" y="45.4" text-anchor="end">90</text><text class="tk" x="419.7" y="24.2" text-anchor="end">100</text><text class="tk" x="426.7" y="248.4" text-anchor="middle">0</text><text class="tk" x="454.7" y="248.4" text-anchor="middle">20</text><text class="tk" x="482.7" y="248.4" text-anchor="middle">40</text><text class="tk" x="510.7" y="248.4" text-anchor="middle">60</text><text class="tk" x="538.7" y="248.4" text-anchor="middle">80</text><text class="tk" x="566.7" y="248.4" text-anchor="middle">100</text><text class="tk" x="594.7" y="248.4" text-anchor="middle">120</text><text class="tk" x="622.7" y="248.4" text-anchor="middle">140</text><text class="tk" x="650.7" y="248.4" text-anchor="middle">160</text><text class="tk" x="678.7" y="248.4" text-anchor="middle">180</text><text class="tk" x="706.7" y="248.4" text-anchor="middle">200</text><text class="tk" x="734.7" y="248.4" text-anchor="middle">220</text>
<text class="ti" transform="translate(398,122) rotate(-90)" text-anchor="middle">Dividing cells [%]</text>
<text class="ti" x="599" y="264" text-anchor="middle">Time [h]</text>
<text class="lb" x="395.2" y="11">B</text>
<path d="M687.2,28.3 H705.5" stroke="#000" stroke-width="2"/><g fill="#000" stroke="none"><circle cx="696.2" cy="28.3" r="3.8"/></g><text class="lg" x="706.3" y="32.3">WT</text>
<path d="M687.2,42.1 H705.5" stroke="#000" stroke-width="2"/><g fill="#fff" stroke="#111" stroke-width="1.1"><circle cx="696.2" cy="42.1" r="3.5"/></g><text class="lg" transform="translate(706.3,46.1) skewX(-14)">Δ</text><text class="lg it" x="713.6" y="46.1">sod1</text>
<path d="M687.2,56 H705.5" stroke="#000" stroke-width="2"/><g fill="#fff" stroke="#333" stroke-width="1"><circle cx="696.2" cy="56" r="3.65"/></g><path d="M693.05,57.27L696.54,52.62M694.22,58.77L698.30,53.33M696.05,59.40L699.42,54.91" fill="none" stroke="#111" stroke-width="1.12"/><text class="lg" transform="translate(706.3,60) skewX(-14)">Δ</text><text class="lg it" x="713.6" y="60">fob1</text>
</g>
<g id="panelC">
<path d="M38,310.7 L38.8,324.2 L42.1,361.2 L43.7,378.9 L45,401.8 L46.9,406.5 L48.5,414.7 L50.2,418.6 L51.7,423.4 L54.2,427.5 L57.4,429.8 L59,431.9 L60.7,434 L63,436.3 L63.6,439 L64.2,441.8 L64.8,444.6 L65.6,447.6 L66.4,450.6 L69.3,454.2 L73,456.6 L76.7,457.7 L80.6,458.7 L84.4,461.4 L87.6,464.8 L88.4,467.8 L89.2,470.9 L90,473.9 L93.2,475.4 L96.4,477.9 L98.5,479.5 L100.5,481.2 L104.4,482.6 L106.9,483.5 L109.3,484.3 L112.5,484.7 L115.7,485.1 L118.2,486 L120.6,486.8 L125.4,488.2 L127.8,489.5 L130.3,490.7 L135,492.4 L135.9,492.4 L137.3,492.4 L138.7,492.4 L140.1,492.4 L141.5,492.4 L142.9,492.4 L144.3,492.4 L145.7,492.4 L148.2,495.5 L149.7,497.7 L151.3,499.9 L154.6,503.2 L158.9,504.5 L162.6,506.1 L165.3,507.2 L168,508.2 L172.2,510.1 L173.6,510.1 L175,510.1 L176.4,510.1 L177.8,510.1 L179.2,510.1 L180.6,510.1 L182,510.1 L183.4,510.1 L184.8,510.1 L186.2,510.1 L187.6,510.1 L189,510.1 L190.4,510.1 L191.8,510.1 L193.2,510.1 L194.6,510.1 L196,510.1 L197.4,510.1 L198.8,510.1 L200.2,510.1 L201.6,510.1 L203,510.1 L204.5,511.7 L205.8,511.7 L207.2,511.7 L208.6,511.7 L210,511.7 L211.4,511.7 L212.8,511.7 L214.2,511.7 L215.6,511.7 L217,511.7 L218.4,511.7 L219.8,511.7 L221.2,511.7 L222.6,511.7 L223.8,511.7 L225.4,513.9 L227,516.1 L228.2,516.1 L229.6,516.1 L230.9,516.1 L232.3,516.1 L233.7,516.1 L235.1,516.1 L236.5,516.1 L237.9,516.1 L239.3,516.1 L240.7,516.1 L242.1,516.1 L243.5,516.1 L244.9,516.1 L246.3,516.1 L247.7,516.1 L249.1,516.1 L250.5,516.1 L251.9,516.1 L253.3,516.1 L254.7,516.1 L256.1,516.1 L257.5,516.1 L258.9,516.1 L260.3,516.1 L261.7,516.1 L263.1,516.1 L264.5,516.1 L265.9,516.1 L267.3,516.1 L268.7,516.1 L270.1,516.1 L271.5,516.1 L272.9,516.1 L274.3,516.1 L275.7,516.1 L277.1,516.1 L278.5,516.1 L279.9,516.1 L281.3,516.1 L282.7,516.1 L284.1,516.1 L285.5,516.1 L286.9,516.1 L288.3,516.1 L289.7,516.1 L291.1,516.1 L292.5,516.1 L293.9,516.1 L295.3,516.1 L296.7,516.1 L298.1,516.1 L299.5,516.1 L300.9,516.1 L302.3,516.1 L303.7,516.1 L305.1,516.1 L306.5,516.1 L307.8,516.1 L309.2,516.1 L310.6,516.1 L312,516.1 L313.4,516.1 L314.8,516.1 L316.2,516.1 L317.6,516.1 L319,516.1 L320.4,516.1 L321.8,516.1 L323.2,516.1 L324.6,516.1 L326,516.1 L327.4,516.1 L328.3,516.1 L329.7,518.6" fill="none" stroke="#000" stroke-width="2" stroke-linejoin="round"/>
<g fill="#000" stroke="none"><circle cx="38" cy="310.7" r="3.8"/><circle cx="38.8" cy="324.2" r="3.8"/><circle cx="42.1" cy="361.2" r="3.8"/><circle cx="43.7" cy="378.9" r="3.8"/><circle cx="45" cy="401.8" r="3.8"/><circle cx="46.9" cy="406.5" r="3.8"/><circle cx="48.5" cy="414.7" r="3.8"/><circle cx="50.2" cy="418.6" r="3.8"/><circle cx="51.7" cy="423.4" r="3.8"/><circle cx="54.2" cy="427.5" r="3.8"/><circle cx="57.4" cy="429.8" r="3.8"/><circle cx="59" cy="431.9" r="3.8"/><circle cx="60.7" cy="434" r="3.8"/><circle cx="63" cy="436.3" r="3.8"/><circle cx="63.6" cy="439" r="3.8"/><circle cx="64.2" cy="441.8" r="3.8"/><circle cx="64.8" cy="444.6" r="3.8"/><circle cx="65.6" cy="447.6" r="3.8"/><circle cx="66.4" cy="450.6" r="3.8"/><circle cx="69.3" cy="454.2" r="3.8"/><circle cx="73" cy="456.6" r="3.8"/><circle cx="76.7" cy="457.7" r="3.8"/><circle cx="80.6" cy="458.7" r="3.8"/><circle cx="84.4" cy="461.4" r="3.8"/><circle cx="87.6" cy="464.8" r="3.8"/><circle cx="88.4" cy="467.8" r="3.8"/><circle cx="89.2" cy="470.9" r="3.8"/><circle cx="90" cy="473.9" r="3.8"/><circle cx="93.2" cy="475.4" r="3.8"/><circle cx="96.4" cy="477.9" r="3.8"/><circle cx="98.5" cy="479.5" r="3.8"/><circle cx="100.5" cy="481.2" r="3.8"/><circle cx="104.4" cy="482.6" r="3.8"/><circle cx="106.9" cy="483.5" r="3.8"/><circle cx="109.3" cy="484.3" r="3.8"/><circle cx="112.5" cy="484.7" r="3.8"/><circle cx="115.7" cy="485.1" r="3.8"/><circle cx="118.2" cy="486" r="3.8"/><circle cx="120.6" cy="486.8" r="3.8"/><circle cx="125.4" cy="488.2" r="3.8"/><circle cx="127.8" cy="489.5" r="3.8"/><circle cx="130.3" cy="490.7" r="3.8"/><circle cx="135" cy="492.4" r="3.8"/><circle cx="135.9" cy="492.4" r="3.8"/><circle cx="137.3" cy="492.4" r="3.8"/><circle cx="138.7" cy="492.4" r="3.8"/><circle cx="140.1" cy="492.4" r="3.8"/><circle cx="141.5" cy="492.4" r="3.8"/><circle cx="142.9" cy="492.4" r="3.8"/><circle cx="144.3" cy="492.4" r="3.8"/><circle cx="145.7" cy="492.4" r="3.8"/><circle cx="148.2" cy="495.5" r="3.8"/><circle cx="149.7" cy="497.7" r="3.8"/><circle cx="151.3" cy="499.9" r="3.8"/><circle cx="154.6" cy="503.2" r="3.8"/><circle cx="158.9" cy="504.5" r="3.8"/><circle cx="162.6" cy="506.1" r="3.8"/><circle cx="165.3" cy="507.2" r="3.8"/><circle cx="168" cy="508.2" r="3.8"/><circle cx="172.2" cy="510.1" r="3.8"/><circle cx="173.6" cy="510.1" r="3.8"/><circle cx="175" cy="510.1" r="3.8"/><circle cx="176.4" cy="510.1" r="3.8"/><circle cx="177.8" cy="510.1" r="3.8"/><circle cx="179.2" cy="510.1" r="3.8"/><circle cx="180.6" cy="510.1" r="3.8"/><circle cx="182" cy="510.1" r="3.8"/><circle cx="183.4" cy="510.1" r="3.8"/><circle cx="184.8" cy="510.1" r="3.8"/><circle cx="186.2" cy="510.1" r="3.8"/><circle cx="187.6" cy="510.1" r="3.8"/><circle cx="189" cy="510.1" r="3.8"/><circle cx="190.4" cy="510.1" r="3.8"/><circle cx="191.8" cy="510.1" r="3.8"/><circle cx="193.2" cy="510.1" r="3.8"/><circle cx="194.6" cy="510.1" r="3.8"/><circle cx="196" cy="510.1" r="3.8"/><circle cx="197.4" cy="510.1" r="3.8"/><circle cx="198.8" cy="510.1" r="3.8"/><circle cx="200.2" cy="510.1" r="3.8"/><circle cx="201.6" cy="510.1" r="3.8"/><circle cx="203" cy="510.1" r="3.8"/><circle cx="204.5" cy="511.7" r="3.8"/><circle cx="205.8" cy="511.7" r="3.8"/><circle cx="207.2" cy="511.7" r="3.8"/><circle cx="208.6" cy="511.7" r="3.8"/><circle cx="210" cy="511.7" r="3.8"/><circle cx="211.4" cy="511.7" r="3.8"/><circle cx="212.8" cy="511.7" r="3.8"/><circle cx="214.2" cy="511.7" r="3.8"/><circle cx="215.6" cy="511.7" r="3.8"/><circle cx="217" cy="511.7" r="3.8"/><circle cx="218.4" cy="511.7" r="3.8"/><circle cx="219.8" cy="511.7" r="3.8"/><circle cx="221.2" cy="511.7" r="3.8"/><circle cx="222.6" cy="511.7" r="3.8"/><circle cx="223.8" cy="511.7" r="3.8"/><circle cx="225.4" cy="513.9" r="3.8"/><circle cx="227" cy="516.1" r="3.8"/><circle cx="228.2" cy="516.1" r="3.8"/><circle cx="229.6" cy="516.1" r="3.8"/><circle cx="230.9" cy="516.1" r="3.8"/><circle cx="232.3" cy="516.1" r="3.8"/><circle cx="233.7" cy="516.1" r="3.8"/><circle cx="235.1" cy="516.1" r="3.8"/><circle cx="236.5" cy="516.1" r="3.8"/><circle cx="237.9" cy="516.1" r="3.8"/><circle cx="239.3" cy="516.1" r="3.8"/><circle cx="240.7" cy="516.1" r="3.8"/><circle cx="242.1" cy="516.1" r="3.8"/><circle cx="243.5" cy="516.1" r="3.8"/><circle cx="244.9" cy="516.1" r="3.8"/><circle cx="246.3" cy="516.1" r="3.8"/><circle cx="247.7" cy="516.1" r="3.8"/><circle cx="249.1" cy="516.1" r="3.8"/><circle cx="250.5" cy="516.1" r="3.8"/><circle cx="251.9" cy="516.1" r="3.8"/><circle cx="253.3" cy="516.1" r="3.8"/><circle cx="254.7" cy="516.1" r="3.8"/><circle cx="256.1" cy="516.1" r="3.8"/><circle cx="257.5" cy="516.1" r="3.8"/><circle cx="258.9" cy="516.1" r="3.8"/><circle cx="260.3" cy="516.1" r="3.8"/><circle cx="261.7" cy="516.1" r="3.8"/><circle cx="263.1" cy="516.1" r="3.8"/><circle cx="264.5" cy="516.1" r="3.8"/><circle cx="265.9" cy="516.1" r="3.8"/><circle cx="267.3" cy="516.1" r="3.8"/><circle cx="268.7" cy="516.1" r="3.8"/><circle cx="270.1" cy="516.1" r="3.8"/><circle cx="271.5" cy="516.1" r="3.8"/><circle cx="272.9" cy="516.1" r="3.8"/><circle cx="274.3" cy="516.1" r="3.8"/><circle cx="275.7" cy="516.1" r="3.8"/><circle cx="277.1" cy="516.1" r="3.8"/><circle cx="278.5" cy="516.1" r="3.8"/><circle cx="279.9" cy="516.1" r="3.8"/><circle cx="281.3" cy="516.1" r="3.8"/><circle cx="282.7" cy="516.1" r="3.8"/><circle cx="284.1" cy="516.1" r="3.8"/><circle cx="285.5" cy="516.1" r="3.8"/><circle cx="286.9" cy="516.1" r="3.8"/><circle cx="288.3" cy="516.1" r="3.8"/><circle cx="289.7" cy="516.1" r="3.8"/><circle cx="291.1" cy="516.1" r="3.8"/><circle cx="292.5" cy="516.1" r="3.8"/><circle cx="293.9" cy="516.1" r="3.8"/><circle cx="295.3" cy="516.1" r="3.8"/><circle cx="296.7" cy="516.1" r="3.8"/><circle cx="298.1" cy="516.1" r="3.8"/><circle cx="299.5" cy="516.1" r="3.8"/><circle cx="300.9" cy="516.1" r="3.8"/><circle cx="302.3" cy="516.1" r="3.8"/><circle cx="303.7" cy="516.1" r="3.8"/><circle cx="305.1" cy="516.1" r="3.8"/><circle cx="306.5" cy="516.1" r="3.8"/><circle cx="307.8" cy="516.1" r="3.8"/><circle cx="309.2" cy="516.1" r="3.8"/><circle cx="310.6" cy="516.1" r="3.8"/><circle cx="312" cy="516.1" r="3.8"/><circle cx="313.4" cy="516.1" r="3.8"/><circle cx="314.8" cy="516.1" r="3.8"/><circle cx="316.2" cy="516.1" r="3.8"/><circle cx="317.6" cy="516.1" r="3.8"/><circle cx="319" cy="516.1" r="3.8"/><circle cx="320.4" cy="516.1" r="3.8"/><circle cx="321.8" cy="516.1" r="3.8"/><circle cx="323.2" cy="516.1" r="3.8"/><circle cx="324.6" cy="516.1" r="3.8"/><circle cx="326" cy="516.1" r="3.8"/><circle cx="327.4" cy="516.1" r="3.8"/><circle cx="328.3" cy="516.1" r="3.8"/><circle cx="329.7" cy="518.6" r="3.8"/></g>
<path d="M38,310.7 L41.2,319.2 L42.6,329.8 L44.2,338.6 L46.1,346.7 L48.5,349.2 L51,351.4 L51.4,353.9 L51.7,356.4 L52.5,358.4 L53.4,360.4 L54.6,361.9 L55.8,363.5 L57.4,365.2 L59,366.8 L61,367.7 L63,368.5 L64.6,370.9 L66.2,373.3 L67.9,374.8 L69.5,376.4 L70.6,378.4 L71.8,380.3 L74.3,382.4 L76.7,384.5 L79.2,386.2 L81.6,387.8 L83.2,389.5 L84.8,391.2 L86.4,392.8 L88.4,395.2 L90.4,397.6 L92.5,400.1 L94.5,402.6 L96.9,404.2 L99.2,405.7 L100.6,407.6 L101.9,409.5 L103.3,411.3 L104.6,413.5 L106,415.6 L107.3,417.8 L109.8,419 L112.2,420.3 L114.6,421.8 L117,423.4 L118.2,425.5 L119.4,427.5 L119.8,430.8 L120.2,434 L122.7,436 L125.1,437.9 L127.5,439.9 L129.9,441.9 L132.3,443.1 L134.8,444.4 L137.2,445.2 L139.6,446 L142,447.8 L144.4,449.6 L146.1,451.3 L147.8,453.1 L150.6,455.4 L151.3,457.5 L152.1,459.7 L152.9,461.8 L155.4,463.4 L157.8,465 L160.2,466.6 L162.6,468.3 L164.7,468.8 L166.9,469.3 L169,469.7 L171.5,471.8 L173.9,473.9 L176,474.7 L178.2,475.4 L180.3,476.2 L182.8,477.9 L185.2,479.5 L187.6,481.1 L190,482.6 L192.8,483.9 L195.7,485.1 L198.1,486.7 L200.5,488.2 L202.5,489.9 L204.5,491.6 L206.1,493.1 L207.7,494.7 L208.6,494.7 L210,494.7 L211.4,494.7 L212.8,494.7 L214.2,494.7 L215.6,494.7 L217,494.7 L218.4,494.7 L219.8,494.7 L220.6,494.7 L222.2,496.8 L223.8,498.8 L225.4,500.8 L227,502.8 L229.1,503.6 L231.1,504.5 L233.5,505.5 L235.8,506.5 L237.6,508.2 L239.3,509.9 L240.7,509.9 L242.1,509.9 L243.5,509.9 L244.9,509.9 L246.3,509.9 L247.7,509.9 L249.1,509.9 L250.5,509.9 L251.9,509.9 L252.8,509.9 L254.4,511.6 L256,513.4 L257.5,513.4 L258.9,513.4 L260.3,513.4 L261.7,513.4 L263.1,513.4 L264.8,513.4 L266.4,515.3 L268,517.1 L268.7,517.2 L270.1,517.2 L271.5,517.2 L272.9,517.2 L274.3,517.3 L275.7,517.3 L277.1,517.3 L278.5,517.3 L279.9,517.4 L283,518.6" fill="none" stroke="#000" stroke-width="2" stroke-linejoin="round"/>
<g fill="#fff" stroke="#111" stroke-width="1.1"><circle cx="38" cy="310.7" r="3.5"/><circle cx="41.2" cy="319.2" r="3.5"/><circle cx="42.6" cy="329.8" r="3.5"/><circle cx="44.2" cy="338.6" r="3.5"/><circle cx="46.1" cy="346.7" r="3.5"/><circle cx="48.5" cy="349.2" r="3.5"/><circle cx="51" cy="351.4" r="3.5"/><circle cx="51.4" cy="353.9" r="3.5"/><circle cx="51.7" cy="356.4" r="3.5"/><circle cx="52.5" cy="358.4" r="3.5"/><circle cx="53.4" cy="360.4" r="3.5"/><circle cx="54.6" cy="361.9" r="3.5"/><circle cx="55.8" cy="363.5" r="3.5"/><circle cx="57.4" cy="365.2" r="3.5"/><circle cx="59" cy="366.8" r="3.5"/><circle cx="61" cy="367.7" r="3.5"/><circle cx="63" cy="368.5" r="3.5"/><circle cx="64.6" cy="370.9" r="3.5"/><circle cx="66.2" cy="373.3" r="3.5"/><circle cx="67.9" cy="374.8" r="3.5"/><circle cx="69.5" cy="376.4" r="3.5"/><circle cx="70.6" cy="378.4" r="3.5"/><circle cx="71.8" cy="380.3" r="3.5"/><circle cx="74.3" cy="382.4" r="3.5"/><circle cx="76.7" cy="384.5" r="3.5"/><circle cx="79.2" cy="386.2" r="3.5"/><circle cx="81.6" cy="387.8" r="3.5"/><circle cx="83.2" cy="389.5" r="3.5"/><circle cx="84.8" cy="391.2" r="3.5"/><circle cx="86.4" cy="392.8" r="3.5"/><circle cx="88.4" cy="395.2" r="3.5"/><circle cx="90.4" cy="397.6" r="3.5"/><circle cx="92.5" cy="400.1" r="3.5"/><circle cx="94.5" cy="402.6" r="3.5"/><circle cx="96.9" cy="404.2" r="3.5"/><circle cx="99.2" cy="405.7" r="3.5"/><circle cx="100.6" cy="407.6" r="3.5"/><circle cx="101.9" cy="409.5" r="3.5"/><circle cx="103.3" cy="411.3" r="3.5"/><circle cx="104.6" cy="413.5" r="3.5"/><circle cx="106" cy="415.6" r="3.5"/><circle cx="107.3" cy="417.8" r="3.5"/><circle cx="109.8" cy="419" r="3.5"/><circle cx="112.2" cy="420.3" r="3.5"/><circle cx="114.6" cy="421.8" r="3.5"/><circle cx="117" cy="423.4" r="3.5"/><circle cx="118.2" cy="425.5" r="3.5"/><circle cx="119.4" cy="427.5" r="3.5"/><circle cx="119.8" cy="430.8" r="3.5"/><circle cx="120.2" cy="434" r="3.5"/><circle cx="122.7" cy="436" r="3.5"/><circle cx="125.1" cy="437.9" r="3.5"/><circle cx="127.5" cy="439.9" r="3.5"/><circle cx="129.9" cy="441.9" r="3.5"/><circle cx="132.3" cy="443.1" r="3.5"/><circle cx="134.8" cy="444.4" r="3.5"/><circle cx="137.2" cy="445.2" r="3.5"/><circle cx="139.6" cy="446" r="3.5"/><circle cx="142" cy="447.8" r="3.5"/><circle cx="144.4" cy="449.6" r="3.5"/><circle cx="146.1" cy="451.3" r="3.5"/><circle cx="147.8" cy="453.1" r="3.5"/><circle cx="150.6" cy="455.4" r="3.5"/><circle cx="151.3" cy="457.5" r="3.5"/><circle cx="152.1" cy="459.7" r="3.5"/><circle cx="152.9" cy="461.8" r="3.5"/><circle cx="155.4" cy="463.4" r="3.5"/><circle cx="157.8" cy="465" r="3.5"/><circle cx="160.2" cy="466.6" r="3.5"/><circle cx="162.6" cy="468.3" r="3.5"/><circle cx="164.7" cy="468.8" r="3.5"/><circle cx="166.9" cy="469.3" r="3.5"/><circle cx="169" cy="469.7" r="3.5"/><circle cx="171.5" cy="471.8" r="3.5"/><circle cx="173.9" cy="473.9" r="3.5"/><circle cx="176" cy="474.7" r="3.5"/><circle cx="178.2" cy="475.4" r="3.5"/><circle cx="180.3" cy="476.2" r="3.5"/><circle cx="182.8" cy="477.9" r="3.5"/><circle cx="185.2" cy="479.5" r="3.5"/><circle cx="187.6" cy="481.1" r="3.5"/><circle cx="190" cy="482.6" r="3.5"/><circle cx="192.8" cy="483.9" r="3.5"/><circle cx="195.7" cy="485.1" r="3.5"/><circle cx="198.1" cy="486.7" r="3.5"/><circle cx="200.5" cy="488.2" r="3.5"/><circle cx="202.5" cy="489.9" r="3.5"/><circle cx="204.5" cy="491.6" r="3.5"/><circle cx="206.1" cy="493.1" r="3.5"/><circle cx="207.7" cy="494.7" r="3.5"/><circle cx="208.6" cy="494.7" r="3.5" stroke-width="0.6"/><circle cx="210" cy="494.7" r="3.5" stroke-width="0.6"/><circle cx="211.4" cy="494.7" r="3.5" stroke-width="0.6"/><circle cx="212.8" cy="494.7" r="3.5" stroke-width="0.6"/><circle cx="214.2" cy="494.7" r="3.5" stroke-width="0.6"/><circle cx="215.6" cy="494.7" r="3.5" stroke-width="0.6"/><circle cx="217" cy="494.7" r="3.5" stroke-width="0.6"/><circle cx="218.4" cy="494.7" r="3.5" stroke-width="0.6"/><circle cx="219.8" cy="494.7" r="3.5" stroke-width="0.6"/><circle cx="220.6" cy="494.7" r="3.5"/><circle cx="222.2" cy="496.8" r="3.5"/><circle cx="223.8" cy="498.8" r="3.5"/><circle cx="225.4" cy="500.8" r="3.5"/><circle cx="227" cy="502.8" r="3.5"/><circle cx="229.1" cy="503.6" r="3.5"/><circle cx="231.1" cy="504.5" r="3.5"/><circle cx="233.5" cy="505.5" r="3.5"/><circle cx="235.8" cy="506.5" r="3.5"/><circle cx="237.6" cy="508.2" r="3.5"/><circle cx="239.3" cy="509.9" r="3.5"/><circle cx="240.7" cy="509.9" r="3.5" stroke-width="0.6"/><circle cx="242.1" cy="509.9" r="3.5" stroke-width="0.6"/><circle cx="243.5" cy="509.9" r="3.5" stroke-width="0.6"/><circle cx="244.9" cy="509.9" r="3.5" stroke-width="0.6"/><circle cx="246.3" cy="509.9" r="3.5" stroke-width="0.6"/><circle cx="247.7" cy="509.9" r="3.5" stroke-width="0.6"/><circle cx="249.1" cy="509.9" r="3.5" stroke-width="0.6"/><circle cx="250.5" cy="509.9" r="3.5" stroke-width="0.6"/><circle cx="251.9" cy="509.9" r="3.5" stroke-width="0.6"/><circle cx="252.8" cy="509.9" r="3.5"/><circle cx="254.4" cy="511.6" r="3.5"/><circle cx="256" cy="513.4" r="3.5"/><circle cx="257.5" cy="513.4" r="3.5" stroke-width="0.6"/><circle cx="258.9" cy="513.4" r="3.5" stroke-width="0.6"/><circle cx="260.3" cy="513.4" r="3.5" stroke-width="0.6"/><circle cx="261.7" cy="513.4" r="3.5" stroke-width="0.6"/><circle cx="263.1" cy="513.4" r="3.5" stroke-width="0.6"/><circle cx="264.8" cy="513.4" r="3.5"/><circle cx="266.4" cy="515.3" r="3.5"/><circle cx="268" cy="517.1" r="3.5"/><circle cx="268.7" cy="517.2" r="3.5" stroke-width="0.6"/><circle cx="270.1" cy="517.2" r="3.5" stroke-width="0.6"/><circle cx="271.5" cy="517.2" r="3.5" stroke-width="0.6"/><circle cx="272.9" cy="517.2" r="3.5" stroke-width="0.6"/><circle cx="274.3" cy="517.3" r="3.5" stroke-width="0.6"/><circle cx="275.7" cy="517.3" r="3.5" stroke-width="0.6"/><circle cx="277.1" cy="517.3" r="3.5" stroke-width="0.6"/><circle cx="278.5" cy="517.3" r="3.5" stroke-width="0.6"/><circle cx="279.9" cy="517.4" r="3.5"/><circle cx="283" cy="518.6" r="3.5"/></g>
<path d="M38.4,310.7 L40.5,344.8 L42.1,386.2 L43.7,427.5 L45.1,447.7 L46.4,456.6 L47.6,462.5 L49,467 L50.6,470.4 L52.3,472 L56.2,474.7 L58.6,476.3 L60.9,477.9 L63.4,479.5 L65.8,481.2 L67,484.7 L68.2,488.2 L72.3,490.7 L75.5,494.7 L80.2,496.4 L81.3,496.4 L82.7,496.4 L84.1,496.4 L85.5,496.4 L86.9,496.4 L88.3,496.4 L89.7,496.4 L91.1,496.4 L92.5,496.4 L93.9,496.4 L95.3,496.4 L96.4,496.4 L98.8,500.3 L102.9,502.8 L107.6,504.5 L110.8,508.4 L112.1,508.4 L113.5,508.4 L114.9,508.4 L116.3,508.4 L117.7,508.4 L119.1,508.4 L120.5,508.4 L121.9,508.4 L123.3,508.4 L124.7,508.4 L126.1,508.4 L127.5,508.4 L128.9,508.4 L130.3,508.4 L131.7,508.4 L133.1,508.4 L134.5,508.4 L135.9,508.4 L136.7,508.4 L139.9,511.1 L141.5,511.1 L142.9,511.1 L144.3,511.1 L145.7,511.1 L147.1,511.1 L148.5,511.1 L149.9,511.1 L151.3,511.1 L152.7,511.1 L154,511.1 L155.4,511.1 L156.8,511.1 L158.2,511.1 L159.6,511.1 L161,511.1 L162.4,511.1 L163.8,511.1 L165.2,511.1 L166.6,511.1 L168,511.1 L169.4,511.1 L170.8,511.1 L172.5,514 L173.6,514 L175,514 L176.4,514 L177.8,514 L179.2,514 L180.6,514 L182,514 L183.4,514 L184.8,514 L186.2,514 L187.6,514 L189,514 L190.4,514 L191.8,514 L193.2,514 L195.7,517.1 L197.4,517.1 L198.8,517.1 L200.2,517.1 L201.6,517.1 L203,517.1 L204.4,517.1 L205.8,517.1 L207.2,517.1 L208.6,517.1 L210,517.1 L211.4,517.1 L212.8,517.1 L214.2,517.1 L215.8,517.1 L218.8,518.6" fill="none" stroke="#000" stroke-width="2" stroke-linejoin="round"/>
<g fill="#fff" stroke="#333" stroke-width="1"><circle cx="38.4" cy="310.7" r="3.65"/><circle cx="40.5" cy="344.8" r="3.65"/><circle cx="42.1" cy="386.2" r="3.65"/><circle cx="43.7" cy="427.5" r="3.65"/><circle cx="45.1" cy="447.7" r="3.65"/><circle cx="46.4" cy="456.6" r="3.65"/><circle cx="47.6" cy="462.5" r="3.65"/><circle cx="49" cy="467" r="3.65"/><circle cx="50.6" cy="470.4" r="3.65"/><circle cx="52.3" cy="472" r="3.65"/><circle cx="56.2" cy="474.7" r="3.65"/><circle cx="58.6" cy="476.3" r="3.65"/><circle cx="60.9" cy="477.9" r="3.65"/><circle cx="63.4" cy="479.5" r="3.65"/><circle cx="65.8" cy="481.2" r="3.65"/><circle cx="67" cy="484.7" r="3.65"/><circle cx="68.2" cy="488.2" r="3.65"/><circle cx="72.3" cy="490.7" r="3.65"/><circle cx="75.5" cy="494.7" r="3.65"/><circle cx="80.2" cy="496.4" r="3.65"/><circle cx="81.3" cy="496.4" r="3.65"/><circle cx="82.7" cy="496.4" r="3.65"/><circle cx="84.1" cy="496.4" r="3.65"/><circle cx="85.5" cy="496.4" r="3.65"/><circle cx="86.9" cy="496.4" r="3.65"/><circle cx="88.3" cy="496.4" r="3.65"/><circle cx="89.7" cy="496.4" r="3.65"/><circle cx="91.1" cy="496.4" r="3.65"/><circle cx="92.5" cy="496.4" r="3.65"/><circle cx="93.9" cy="496.4" r="3.65"/><circle cx="95.3" cy="496.4" r="3.65"/><circle cx="96.4" cy="496.4" r="3.65"/><circle cx="98.8" cy="500.3" r="3.65"/><circle cx="102.9" cy="502.8" r="3.65"/><circle cx="107.6" cy="504.5" r="3.65"/><circle cx="110.8" cy="508.4" r="3.65"/><circle cx="112.1" cy="508.4" r="3.65"/><circle cx="113.5" cy="508.4" r="3.65"/><circle cx="114.9" cy="508.4" r="3.65"/><circle cx="116.3" cy="508.4" r="3.65"/><circle cx="117.7" cy="508.4" r="3.65"/><circle cx="119.1" cy="508.4" r="3.65"/><circle cx="120.5" cy="508.4" r="3.65"/><circle cx="121.9" cy="508.4" r="3.65"/><circle cx="123.3" cy="508.4" r="3.65"/><circle cx="124.7" cy="508.4" r="3.65"/><circle cx="126.1" cy="508.4" r="3.65"/><circle cx="127.5" cy="508.4" r="3.65"/><circle cx="128.9" cy="508.4" r="3.65"/><circle cx="130.3" cy="508.4" r="3.65"/><circle cx="131.7" cy="508.4" r="3.65"/><circle cx="133.1" cy="508.4" r="3.65"/><circle cx="134.5" cy="508.4" r="3.65"/><circle cx="135.9" cy="508.4" r="3.65"/><circle cx="136.7" cy="508.4" r="3.65"/><circle cx="139.9" cy="511.1" r="3.65"/><circle cx="141.5" cy="511.1" r="3.65"/><circle cx="142.9" cy="511.1" r="3.65"/><circle cx="144.3" cy="511.1" r="3.65"/><circle cx="145.7" cy="511.1" r="3.65"/><circle cx="147.1" cy="511.1" r="3.65"/><circle cx="148.5" cy="511.1" r="3.65"/><circle cx="149.9" cy="511.1" r="3.65"/><circle cx="151.3" cy="511.1" r="3.65"/><circle cx="152.7" cy="511.1" r="3.65"/><circle cx="154" cy="511.1" r="3.65"/><circle cx="155.4" cy="511.1" r="3.65"/><circle cx="156.8" cy="511.1" r="3.65"/><circle cx="158.2" cy="511.1" r="3.65"/><circle cx="159.6" cy="511.1" r="3.65"/><circle cx="161" cy="511.1" r="3.65"/><circle cx="162.4" cy="511.1" r="3.65"/><circle cx="163.8" cy="511.1" r="3.65"/><circle cx="165.2" cy="511.1" r="3.65"/><circle cx="166.6" cy="511.1" r="3.65"/><circle cx="168" cy="511.1" r="3.65"/><circle cx="169.4" cy="511.1" r="3.65"/><circle cx="170.8" cy="511.1" r="3.65"/><circle cx="172.5" cy="514" r="3.65"/><circle cx="173.6" cy="514" r="3.65"/><circle cx="175" cy="514" r="3.65"/><circle cx="176.4" cy="514" r="3.65"/><circle cx="177.8" cy="514" r="3.65"/><circle cx="179.2" cy="514" r="3.65"/><circle cx="180.6" cy="514" r="3.65"/><circle cx="182" cy="514" r="3.65"/><circle cx="183.4" cy="514" r="3.65"/><circle cx="184.8" cy="514" r="3.65"/><circle cx="186.2" cy="514" r="3.65"/><circle cx="187.6" cy="514" r="3.65"/><circle cx="189" cy="514" r="3.65"/><circle cx="190.4" cy="514" r="3.65"/><circle cx="191.8" cy="514" r="3.65"/><circle cx="193.2" cy="514" r="3.65"/><circle cx="195.7" cy="517.1" r="3.65"/><circle cx="197.4" cy="517.1" r="3.65"/><circle cx="198.8" cy="517.1" r="3.65"/><circle cx="200.2" cy="517.1" r="3.65"/><circle cx="201.6" cy="517.1" r="3.65"/><circle cx="203" cy="517.1" r="3.65"/><circle cx="204.4" cy="517.1" r="3.65"/><circle cx="205.8" cy="517.1" r="3.65"/><circle cx="207.2" cy="517.1" r="3.65"/><circle cx="208.6" cy="517.1" r="3.65"/><circle cx="210" cy="517.1" r="3.65"/><circle cx="211.4" cy="517.1" r="3.65"/><circle cx="212.8" cy="517.1" r="3.65"/><circle cx="214.2" cy="517.1" r="3.65"/><circle cx="215.8" cy="517.1" r="3.65"/><circle cx="218.8" cy="518.6" r="3.65"/></g>
<clipPath id="cC"><circle cx="38.4" cy="310.7" r="3.55"/><circle cx="40.5" cy="344.8" r="3.55"/><circle cx="42.1" cy="386.2" r="3.55"/><circle cx="43.7" cy="427.5" r="3.55"/><circle cx="45.1" cy="447.7" r="3.55"/><circle cx="46.4" cy="456.6" r="3.55"/><circle cx="47.6" cy="462.5" r="3.55"/><circle cx="49" cy="467" r="3.55"/><circle cx="50.6" cy="470.4" r="3.55"/><circle cx="52.3" cy="472" r="3.55"/><circle cx="56.2" cy="474.7" r="3.55"/><circle cx="58.6" cy="476.3" r="3.55"/><circle cx="60.9" cy="477.9" r="3.55"/><circle cx="63.4" cy="479.5" r="3.55"/><circle cx="65.8" cy="481.2" r="3.55"/><circle cx="67" cy="484.7" r="3.55"/><circle cx="68.2" cy="488.2" r="3.55"/><circle cx="72.3" cy="490.7" r="3.55"/><circle cx="75.5" cy="494.7" r="3.55"/><circle cx="80.2" cy="496.4" r="3.55"/><circle cx="81.3" cy="496.4" r="3.55"/><circle cx="82.7" cy="496.4" r="3.55"/><circle cx="84.1" cy="496.4" r="3.55"/><circle cx="85.5" cy="496.4" r="3.55"/><circle cx="86.9" cy="496.4" r="3.55"/><circle cx="88.3" cy="496.4" r="3.55"/><circle cx="89.7" cy="496.4" r="3.55"/><circle cx="91.1" cy="496.4" r="3.55"/><circle cx="92.5" cy="496.4" r="3.55"/><circle cx="93.9" cy="496.4" r="3.55"/><circle cx="95.3" cy="496.4" r="3.55"/><circle cx="96.4" cy="496.4" r="3.55"/><circle cx="98.8" cy="500.3" r="3.55"/><circle cx="102.9" cy="502.8" r="3.55"/><circle cx="107.6" cy="504.5" r="3.55"/><circle cx="110.8" cy="508.4" r="3.55"/><circle cx="112.1" cy="508.4" r="3.55"/><circle cx="113.5" cy="508.4" r="3.55"/><circle cx="114.9" cy="508.4" r="3.55"/><circle cx="116.3" cy="508.4" r="3.55"/><circle cx="117.7" cy="508.4" r="3.55"/><circle cx="119.1" cy="508.4" r="3.55"/><circle cx="120.5" cy="508.4" r="3.55"/><circle cx="121.9" cy="508.4" r="3.55"/><circle cx="123.3" cy="508.4" r="3.55"/><circle cx="124.7" cy="508.4" r="3.55"/><circle cx="126.1" cy="508.4" r="3.55"/><circle cx="127.5" cy="508.4" r="3.55"/><circle cx="128.9" cy="508.4" r="3.55"/><circle cx="130.3" cy="508.4" r="3.55"/><circle cx="131.7" cy="508.4" r="3.55"/><circle cx="133.1" cy="508.4" r="3.55"/><circle cx="134.5" cy="508.4" r="3.55"/><circle cx="135.9" cy="508.4" r="3.55"/><circle cx="136.7" cy="508.4" r="3.55"/><circle cx="139.9" cy="511.1" r="3.55"/><circle cx="141.5" cy="511.1" r="3.55"/><circle cx="142.9" cy="511.1" r="3.55"/><circle cx="144.3" cy="511.1" r="3.55"/><circle cx="145.7" cy="511.1" r="3.55"/><circle cx="147.1" cy="511.1" r="3.55"/><circle cx="148.5" cy="511.1" r="3.55"/><circle cx="149.9" cy="511.1" r="3.55"/><circle cx="151.3" cy="511.1" r="3.55"/><circle cx="152.7" cy="511.1" r="3.55"/><circle cx="154" cy="511.1" r="3.55"/><circle cx="155.4" cy="511.1" r="3.55"/><circle cx="156.8" cy="511.1" r="3.55"/><circle cx="158.2" cy="511.1" r="3.55"/><circle cx="159.6" cy="511.1" r="3.55"/><circle cx="161" cy="511.1" r="3.55"/><circle cx="162.4" cy="511.1" r="3.55"/><circle cx="163.8" cy="511.1" r="3.55"/><circle cx="165.2" cy="511.1" r="3.55"/><circle cx="166.6" cy="511.1" r="3.55"/><circle cx="168" cy="511.1" r="3.55"/><circle cx="169.4" cy="511.1" r="3.55"/><circle cx="170.8" cy="511.1" r="3.55"/><circle cx="172.5" cy="514" r="3.55"/><circle cx="173.6" cy="514" r="3.55"/><circle cx="175" cy="514" r="3.55"/><circle cx="176.4" cy="514" r="3.55"/><circle cx="177.8" cy="514" r="3.55"/><circle cx="179.2" cy="514" r="3.55"/><circle cx="180.6" cy="514" r="3.55"/><circle cx="182" cy="514" r="3.55"/><circle cx="183.4" cy="514" r="3.55"/><circle cx="184.8" cy="514" r="3.55"/><circle cx="186.2" cy="514" r="3.55"/><circle cx="187.6" cy="514" r="3.55"/><circle cx="189" cy="514" r="3.55"/><circle cx="190.4" cy="514" r="3.55"/><circle cx="191.8" cy="514" r="3.55"/><circle cx="193.2" cy="514" r="3.55"/><circle cx="195.7" cy="517.1" r="3.55"/><circle cx="197.4" cy="517.1" r="3.55"/><circle cx="198.8" cy="517.1" r="3.55"/><circle cx="200.2" cy="517.1" r="3.55"/><circle cx="201.6" cy="517.1" r="3.55"/><circle cx="203" cy="517.1" r="3.55"/><circle cx="204.4" cy="517.1" r="3.55"/><circle cx="205.8" cy="517.1" r="3.55"/><circle cx="207.2" cy="517.1" r="3.55"/><circle cx="208.6" cy="517.1" r="3.55"/><circle cx="210" cy="517.1" r="3.55"/><circle cx="211.4" cy="517.1" r="3.55"/><circle cx="212.8" cy="517.1" r="3.55"/><circle cx="214.2" cy="517.1" r="3.55"/><circle cx="215.8" cy="517.1" r="3.55"/><circle cx="218.8" cy="518.6" r="3.55"/></clipPath>
<path clip-path="url(#cC)" d="M-129.8,522.6L32.2,306.7M-127.5,522.6L34.5,306.7M-125.2,522.6L36.8,306.7M-122.9,522.6L39.1,306.7M-120.6,522.6L41.4,306.7M-118.2,522.6L43.7,306.7M-115.9,522.6L46,306.7M-113.6,522.6L48.3,306.7M-111.3,522.6L50.6,306.7M-109,522.6L52.9,306.7M-106.7,522.6L55.2,306.7M-104.4,522.6L57.5,306.7M-102.1,522.6L59.8,306.7M-99.8,522.6L62.1,306.7M-97.5,522.6L64.4,306.7M-95.2,522.6L66.7,306.7M-92.9,522.6L69,306.7M-90.6,522.6L71.3,306.7M-88.3,522.6L73.6,306.7M-86,522.6L75.9,306.7M-83.7,522.6L78.2,306.7M-81.4,522.6L80.5,306.7M-79.1,522.6L82.8,306.7M-76.8,522.6L85.1,306.7M-74.5,522.6L87.4,306.7M-72.2,522.6L89.7,306.7M-69.9,522.6L92,306.7M-67.6,522.6L94.3,306.7M-65.3,522.6L96.6,306.7M-63,522.6L98.9,306.7M-60.7,522.6L101.2,306.7M-58.4,522.6L103.5,306.7M-56.1,522.6L105.8,306.7M-53.8,522.6L108.1,306.7M-51.5,522.6L110.4,306.7M-49.2,522.6L112.7,306.7M-46.9,522.6L115,306.7M-44.6,522.6L117.3,306.7M-42.3,522.6L119.6,306.7M-40,522.6L121.9,306.7M-37.7,522.6L124.2,306.7M-35.4,522.6L126.5,306.7M-33.1,522.6L128.8,306.7M-30.8,522.6L131.1,306.7M-28.5,522.6L133.4,306.7M-26.2,522.6L135.7,306.7M-23.9,522.6L138,306.7M-21.6,522.6L140.3,306.7M-19.3,522.6L142.6,306.7M-17,522.6L144.9,306.7M-14.7,522.6L147.2,306.7M-12.4,522.6L149.5,306.7M-10.1,522.6L151.8,306.7M-7.8,522.6L154.1,306.7M-5.5,522.6L156.4,306.7M-3.2,522.6L158.7,306.7M-0.9,522.6L161,306.7M1.4,522.6L163.3,306.7M3.7,522.6L165.6,306.7M6,522.6L167.9,306.7M8.3,522.6L170.2,306.7M10.6,522.6L172.5,306.7M12.9,522.6L174.8,306.7M15.2,522.6L177.1,306.7M17.5,522.6L179.4,306.7M19.8,522.6L181.7,306.7M22.1,522.6L184,306.7M24.4,522.6L186.3,306.7M26.7,522.6L188.6,306.7M29,522.6L190.9,306.7M31.3,522.6L193.2,306.7M33.6,522.6L195.5,306.7M35.9,522.6L197.8,306.7M38.2,522.6L200.1,306.7M40.5,522.6L202.4,306.7M42.8,522.6L204.7,306.7M45.1,522.6L207,306.7M47.4,522.6L209.3,306.7M49.7,522.6L211.6,306.7M52,522.6L213.9,306.7M54.3,522.6L216.2,306.7M56.6,522.6L218.5,306.7M58.9,522.6L220.8,306.7M61.2,522.6L223.1,306.7M63.5,522.6L225.4,306.7M65.8,522.6L227.7,306.7M68.1,522.6L230,306.7M70.4,522.6L232.3,306.7M72.7,522.6L234.6,306.7M75,522.6L236.9,306.7M77.3,522.6L239.2,306.7M79.6,522.6L241.5,306.7M81.9,522.6L243.8,306.7M84.2,522.6L246.1,306.7M86.5,522.6L248.4,306.7M88.8,522.6L250.7,306.7M91.1,522.6L253,306.7M93.4,522.6L255.3,306.7M95.7,522.6L257.6,306.7M98,522.6L259.9,306.7M100.3,522.6L262.2,306.7M102.6,522.6L264.5,306.7M104.9,522.6L266.8,306.7M107.2,522.6L269.1,306.7M109.5,522.6L271.4,306.7M111.8,522.6L273.7,306.7M114.1,522.6L276,306.7M116.4,522.6L278.3,306.7M118.7,522.6L280.6,306.7M121,522.6L282.9,306.7M123.3,522.6L285.2,306.7M125.6,522.6L287.5,306.7M127.9,522.6L289.8,306.7M130.2,522.6L292.1,306.7M132.5,522.6L294.4,306.7M134.8,522.6L296.7,306.7M137.1,522.6L299,306.7M139.4,522.6L301.3,306.7M141.7,522.6L303.6,306.7M144,522.6L305.9,306.7M146.3,522.6L308.2,306.7M148.6,522.6L310.5,306.7M150.9,522.6L312.8,306.7M153.2,522.6L315.1,306.7M155.5,522.6L317.4,306.7M157.8,522.6L319.7,306.7M160.1,522.6L322,306.7M162.4,522.6L324.3,306.7M164.7,522.6L326.6,306.7M167,522.6L328.9,306.7M169.3,522.6L331.2,306.7M171.6,522.6L333.5,306.7M173.9,522.6L335.8,306.7M176.2,522.6L338.1,306.7M178.5,522.6L340.4,306.7M180.8,522.6L342.7,306.7M183,522.6L345,306.7M185.3,522.6L347.3,306.7M187.6,522.6L349.6,306.7M189.9,522.6L351.9,306.7M192.2,522.6L354.2,306.7M194.5,522.6L356.5,306.7M196.8,522.6L358.8,306.7M199.1,522.6L361.1,306.7M201.4,522.6L363.4,306.7M203.7,522.6L365.7,306.7M206,522.6L368,306.7M208.3,522.6L370.3,306.7M210.6,522.6L372.6,306.7M212.9,522.6L374.9,306.7M215.2,522.6L377.2,306.7M217.5,522.6L379.5,306.7M219.8,522.6L381.8,306.7M222.1,522.6L384.1,306.7" fill="none" stroke="#111" stroke-width="1.12"/>
<path d="M38,310.7 V518.6 H345.6 M34.5,518.6 H38 M34.5,497.8 H38 M34.5,477 H38 M34.5,456.2 H38 M34.5,435.4 H38 M34.5,414.7 H38 M34.5,393.9 H38 M34.5,373.1 H38 M34.5,352.3 H38 M34.5,331.5 H38 M34.5,310.7 H38 M38,518.6 V522.6 M52,518.6 V521.2 M66,518.6 V522.6 M79.9,518.6 V521.2 M93.9,518.6 V522.6 M107.9,518.6 V521.2 M121.9,518.6 V522.6 M135.9,518.6 V521.2 M149.9,518.6 V522.6 M163.8,518.6 V521.2 M177.8,518.6 V522.6 M191.8,518.6 V521.2 M205.8,518.6 V522.6 M219.8,518.6 V521.2 M233.7,518.6 V522.6 M247.7,518.6 V521.2 M261.7,518.6 V522.6 M275.7,518.6 V521.2 M289.7,518.6 V522.6 M303.7,518.6 V521.2 M317.6,518.6 V522.6 M331.6,518.6 V521.2 M345.6,518.6 V522.6" fill="none" stroke="#606060" stroke-width="1"/>
<text class="tk" x="30.2" y="523" text-anchor="end">0</text><text class="tk" x="30.2" y="502.2" text-anchor="end">10</text><text class="tk" x="30.2" y="481.4" text-anchor="end">20</text><text class="tk" x="30.2" y="460.6" text-anchor="end">30</text><text class="tk" x="30.2" y="439.8" text-anchor="end">40</text><text class="tk" x="30.2" y="419" text-anchor="end">50</text><text class="tk" x="30.2" y="398.2" text-anchor="end">60</text><text class="tk" x="30.2" y="377.4" text-anchor="end">70</text><text class="tk" x="30.2" y="356.6" text-anchor="end">80</text><text class="tk" x="30.2" y="335.8" text-anchor="end">90</text><text class="tk" x="30.2" y="315.1" text-anchor="end">100</text><text class="tk" x="38" y="536.9" text-anchor="middle">0</text><text class="tk" x="66" y="536.9" text-anchor="middle">20</text><text class="tk" x="93.9" y="536.9" text-anchor="middle">40</text><text class="tk" x="121.9" y="536.9" text-anchor="middle">60</text><text class="tk" x="149.9" y="536.9" text-anchor="middle">80</text><text class="tk" x="177.8" y="536.9" text-anchor="middle">100</text><text class="tk" x="205.8" y="536.9" text-anchor="middle">120</text><text class="tk" x="233.7" y="536.9" text-anchor="middle">140</text><text class="tk" x="261.7" y="536.9" text-anchor="middle">160</text><text class="tk" x="289.7" y="536.9" text-anchor="middle">180</text><text class="tk" x="317.6" y="536.9" text-anchor="middle">200</text><text class="tk" x="345.6" y="536.9" text-anchor="middle">220</text>
<text class="ti" transform="translate(9,411.3) rotate(-90)" text-anchor="middle">Live cells [%]</text>
<text class="ti" x="209" y="552.2" text-anchor="middle">Time [h]</text>
<text class="lb" x="4.4" y="302.6">C</text>
<path d="M284.3,341 H302.6" stroke="#000" stroke-width="2"/><g fill="#000" stroke="none"><circle cx="293.3" cy="341" r="3.8"/></g><text class="lg" x="303.4" y="345">WT</text>
<path d="M284.3,355.2 H302.6" stroke="#000" stroke-width="2"/><g fill="#fff" stroke="#111" stroke-width="1.1"><circle cx="293.3" cy="355.2" r="3.5"/></g><text class="lg" transform="translate(303.4,359.2) skewX(-14)">Δ</text><text class="lg it" x="310.7" y="359.2">sod1</text>
<path d="M284.3,369.4 H302.6" stroke="#000" stroke-width="2"/><g fill="#fff" stroke="#333" stroke-width="1"><circle cx="293.3" cy="369.4" r="3.65"/></g><path d="M290.13,370.63L293.59,366.01M291.29,372.14L295.37,366.70M293.10,372.79L296.50,368.26" fill="none" stroke="#111" stroke-width="1.12"/><text class="lg" transform="translate(303.4,373.4) skewX(-14)">Δ</text><text class="lg it" x="310.7" y="373.4">fob1</text>
</g>
<g id="panelD">
<path d="M427.3,311.9 L428.5,311.9 L429.7,311.9 L430.9,311.9 L432.1,311.9 L433.2,311.9 L434.4,311.9 L435.6,311.9 L436.8,311.9 L438,311.9 L439.2,311.9 L440.4,311.9 L441.6,311.9 L442.8,311.9 L443.9,311.9 L445.1,311.9 L446.3,311.9 L447.5,311.9 L448.7,311.9 L449.9,311.9 L451.1,311.9 L452.3,311.9 L453.5,311.9 L454.7,311.9 L455.8,311.9 L457,311.9 L458.2,311.9 L459.4,311.9 L460.6,311.9 L461.8,311.9 L463,311.9 L464.2,311.9 L465.4,311.9 L466.5,311.9 L467.7,311.9 L468.9,311.9 L470.1,311.9 L471.3,311.9 L474.9,314 L477.2,316.1 L479.6,319.3 L481.4,322.5 L482.6,334.1 L485.9,335.2 L489.1,336.2 L490.6,338.3 L492.1,340.5 L493.2,343.6 L494,348.3 L494.8,350.7 L495.7,353.1 L496.5,355.6 L497.2,358 L498.5,360.4 L499.7,362.9 L500.9,365.3 L502.1,367.7 L504.1,370 L506.1,372.2 L507.7,376.6 L510.2,381.1 L511.8,384.1 L513.4,387.2 L515,389.5 L516.6,391.8 L517.9,394.3 L519.1,396.7 L520.3,399.1 L521.5,401.6 L522.7,404.3 L523.9,407.1 L525.1,410.7 L526.4,414.3 L527,417.5 L527.7,420.8 L528.4,424 L529.2,427.5 L530,431 L530.8,434.6 L532.8,437.3 L534.4,439.9 L536,442.4 L537.6,444.6 L539.2,446.8 L541.2,451.5 L541.8,454.8 L542.4,458 L544.4,460.2 L546.5,462.3 L548.1,464.7 L549.7,467.1 L552.1,470.3 L554.5,473.5 L556.2,476.8 L557.8,480 L559.8,482.4 L561.8,484.7 L563.8,486.7 L565.8,488.7 L568.6,490.7 L571.4,492.7 L575.5,494.4 L578.5,494.8 L581.5,495.3 L584.5,495.7 L587.5,496.1 L589.9,498.1 L592.4,500.1 L595.6,501.3 L598.8,502.5 L601.2,503.7 L603.7,505 L607.6,506.3 L611.6,507.5 L614.6,508 L617.6,508.5 L620.5,509 L623.5,509.4 L626.5,509.8 L629.5,510.1 L632.4,510.4 L635.4,510.7 L639,517.1 L642.6,519.8 L643.7,519.8 L644.9,519.8 L646.1,519.8 L647.3,519.8 L648.5,519.8 L649.7,519.8 L650.9,519.8 L652.1,519.8 L653.3,519.8 L654.4,519.8 L655.6,519.8 L656.8,519.8 L658,519.8 L659.2,519.8 L660.4,519.8 L661.6,519.8 L662.8,519.8 L664,519.8 L665.1,519.8 L666.3,519.8 L667.5,519.8 L668.7,519.8 L669.9,519.8 L671.1,519.8 L672.3,519.8 L673.5,519.8 L674.7,519.8 L675.8,519.8 L677,519.8 L678.2,519.8 L679.4,519.8 L680.6,519.8 L681.8,519.8 L683,519.8 L684.2,519.8 L685.4,519.8 L686.6,519.8 L687.7,519.8 L688.9,519.8 L690.1,519.8 L691.3,519.8 L692.5,519.8 L693.7,519.8 L694.9,519.8 L696.1,519.8 L697.3,519.8 L698.4,519.8 L699.6,519.8 L700.8,519.8 L702,519.8 L703.2,519.8 L704.4,519.8 L705.6,519.8 L706.8,519.8 L708,519.8 L709.1,519.8 L710.3,519.8 L711.5,519.8 L712.7,519.8 L713.9,519.8 L715.1,519.8 L716.3,519.8 L717.5,519.8 L718.7,519.8 L719.9,519.8 L721,519.8 L722.2,519.8 L723.4,519.8 L724.6,519.8 L725.8,519.8 L727,519.8 L728.2,519.8 L729.4,519.8 L730.6,519.8 L731.7,519.8 L732.9,519.8 L734.1,519.8 L735.3,519.8 L736.5,519.8" fill="none" stroke="#000" stroke-width="2" stroke-linejoin="round"/>
<g fill="#000" stroke="none"><circle cx="427.3" cy="311.9" r="3.8"/><circle cx="428.5" cy="311.9" r="3.8"/><circle cx="429.7" cy="311.9" r="3.8"/><circle cx="430.9" cy="311.9" r="3.8"/><circle cx="432.1" cy="311.9" r="3.8"/><circle cx="433.2" cy="311.9" r="3.8"/><circle cx="434.4" cy="311.9" r="3.8"/><circle cx="435.6" cy="311.9" r="3.8"/><circle cx="436.8" cy="311.9" r="3.8"/><circle cx="438" cy="311.9" r="3.8"/><circle cx="439.2" cy="311.9" r="3.8"/><circle cx="440.4" cy="311.9" r="3.8"/><circle cx="441.6" cy="311.9" r="3.8"/><circle cx="442.8" cy="311.9" r="3.8"/><circle cx="443.9" cy="311.9" r="3.8"/><circle cx="445.1" cy="311.9" r="3.8"/><circle cx="446.3" cy="311.9" r="3.8"/><circle cx="447.5" cy="311.9" r="3.8"/><circle cx="448.7" cy="311.9" r="3.8"/><circle cx="449.9" cy="311.9" r="3.8"/><circle cx="451.1" cy="311.9" r="3.8"/><circle cx="452.3" cy="311.9" r="3.8"/><circle cx="453.5" cy="311.9" r="3.8"/><circle cx="454.7" cy="311.9" r="3.8"/><circle cx="455.8" cy="311.9" r="3.8"/><circle cx="457" cy="311.9" r="3.8"/><circle cx="458.2" cy="311.9" r="3.8"/><circle cx="459.4" cy="311.9" r="3.8"/><circle cx="460.6" cy="311.9" r="3.8"/><circle cx="461.8" cy="311.9" r="3.8"/><circle cx="463" cy="311.9" r="3.8"/><circle cx="464.2" cy="311.9" r="3.8"/><circle cx="465.4" cy="311.9" r="3.8"/><circle cx="466.5" cy="311.9" r="3.8"/><circle cx="467.7" cy="311.9" r="3.8"/><circle cx="468.9" cy="311.9" r="3.8"/><circle cx="470.1" cy="311.9" r="3.8"/><circle cx="471.3" cy="311.9" r="3.8"/><circle cx="474.9" cy="314" r="3.8"/><circle cx="477.2" cy="316.1" r="3.8"/><circle cx="479.6" cy="319.3" r="3.8"/><circle cx="481.4" cy="322.5" r="3.8"/><circle cx="482.6" cy="334.1" r="3.8"/><circle cx="485.9" cy="335.2" r="3.8"/><circle cx="489.1" cy="336.2" r="3.8"/><circle cx="490.6" cy="338.3" r="3.8"/><circle cx="492.1" cy="340.5" r="3.8"/><circle cx="493.2" cy="343.6" r="3.8"/><circle cx="494" cy="348.3" r="3.8"/><circle cx="494.8" cy="350.7" r="3.8"/><circle cx="495.7" cy="353.1" r="3.8"/><circle cx="496.5" cy="355.6" r="3.8"/><circle cx="497.2" cy="358" r="3.8"/><circle cx="498.5" cy="360.4" r="3.8"/><circle cx="499.7" cy="362.9" r="3.8"/><circle cx="500.9" cy="365.3" r="3.8"/><circle cx="502.1" cy="367.7" r="3.8"/><circle cx="504.1" cy="370" r="3.8"/><circle cx="506.1" cy="372.2" r="3.8"/><circle cx="507.7" cy="376.6" r="3.8"/><circle cx="510.2" cy="381.1" r="3.8"/><circle cx="511.8" cy="384.1" r="3.8"/><circle cx="513.4" cy="387.2" r="3.8"/><circle cx="515" cy="389.5" r="3.8"/><circle cx="516.6" cy="391.8" r="3.8"/><circle cx="517.9" cy="394.3" r="3.8"/><circle cx="519.1" cy="396.7" r="3.8"/><circle cx="520.3" cy="399.1" r="3.8"/><circle cx="521.5" cy="401.6" r="3.8"/><circle cx="522.7" cy="404.3" r="3.8"/><circle cx="523.9" cy="407.1" r="3.8"/><circle cx="525.1" cy="410.7" r="3.8"/><circle cx="526.4" cy="414.3" r="3.8"/><circle cx="527" cy="417.5" r="3.8"/><circle cx="527.7" cy="420.8" r="3.8"/><circle cx="528.4" cy="424" r="3.8"/><circle cx="529.2" cy="427.5" r="3.8"/><circle cx="530" cy="431" r="3.8"/><circle cx="530.8" cy="434.6" r="3.8"/><circle cx="532.8" cy="437.3" r="3.8"/><circle cx="534.4" cy="439.9" r="3.8"/><circle cx="536" cy="442.4" r="3.8"/><circle cx="537.6" cy="444.6" r="3.8"/><circle cx="539.2" cy="446.8" r="3.8"/><circle cx="541.2" cy="451.5" r="3.8"/><circle cx="541.8" cy="454.8" r="3.8"/><circle cx="542.4" cy="458" r="3.8"/><circle cx="544.4" cy="460.2" r="3.8"/><circle cx="546.5" cy="462.3" r="3.8"/><circle cx="548.1" cy="464.7" r="3.8"/><circle cx="549.7" cy="467.1" r="3.8"/><circle cx="552.1" cy="470.3" r="3.8"/><circle cx="554.5" cy="473.5" r="3.8"/><circle cx="556.2" cy="476.8" r="3.8"/><circle cx="557.8" cy="480" r="3.8"/><circle cx="559.8" cy="482.4" r="3.8"/><circle cx="561.8" cy="484.7" r="3.8"/><circle cx="563.8" cy="486.7" r="3.8"/><circle cx="565.8" cy="488.7" r="3.8"/><circle cx="568.6" cy="490.7" r="3.8"/><circle cx="571.4" cy="492.7" r="3.8"/><circle cx="575.5" cy="494.4" r="3.8"/><circle cx="578.5" cy="494.8" r="3.8"/><circle cx="581.5" cy="495.3" r="3.8"/><circle cx="584.5" cy="495.7" r="3.8"/><circle cx="587.5" cy="496.1" r="3.8"/><circle cx="589.9" cy="498.1" r="3.8"/><circle cx="592.4" cy="500.1" r="3.8"/><circle cx="595.6" cy="501.3" r="3.8"/><circle cx="598.8" cy="502.5" r="3.8"/><circle cx="601.2" cy="503.7" r="3.8"/><circle cx="603.7" cy="505" r="3.8"/><circle cx="607.6" cy="506.3" r="3.8"/><circle cx="611.6" cy="507.5" r="3.8"/><circle cx="614.6" cy="508" r="3.8"/><circle cx="617.6" cy="508.5" r="3.8"/><circle cx="620.5" cy="509" r="3.8"/><circle cx="623.5" cy="509.4" r="3.8"/><circle cx="626.5" cy="509.8" r="3.8"/><circle cx="629.5" cy="510.1" r="3.8"/><circle cx="632.4" cy="510.4" r="3.8"/><circle cx="635.4" cy="510.7" r="3.8"/><circle cx="639" cy="517.1" r="3.8"/><circle cx="642.6" cy="519.8" r="3.8"/><circle cx="643.7" cy="519.8" r="3.8"/><circle cx="644.9" cy="519.8" r="3.8"/><circle cx="646.1" cy="519.8" r="3.8"/><circle cx="647.3" cy="519.8" r="3.8"/><circle cx="648.5" cy="519.8" r="3.8"/><circle cx="649.7" cy="519.8" r="3.8"/><circle cx="650.9" cy="519.8" r="3.8"/><circle cx="652.1" cy="519.8" r="3.8"/><circle cx="653.3" cy="519.8" r="3.8"/><circle cx="654.4" cy="519.8" r="3.8"/><circle cx="655.6" cy="519.8" r="3.8"/><circle cx="656.8" cy="519.8" r="3.8"/><circle cx="658" cy="519.8" r="3.8"/><circle cx="659.2" cy="519.8" r="3.8"/><circle cx="660.4" cy="519.8" r="3.8"/><circle cx="661.6" cy="519.8" r="3.8"/><circle cx="662.8" cy="519.8" r="3.8"/><circle cx="664" cy="519.8" r="3.8"/><circle cx="665.1" cy="519.8" r="3.8"/><circle cx="666.3" cy="519.8" r="3.8"/><circle cx="667.5" cy="519.8" r="3.8"/><circle cx="668.7" cy="519.8" r="3.8"/><circle cx="669.9" cy="519.8" r="3.8"/><circle cx="671.1" cy="519.8" r="3.8"/><circle cx="672.3" cy="519.8" r="3.8"/><circle cx="673.5" cy="519.8" r="3.8"/><circle cx="674.7" cy="519.8" r="3.8"/><circle cx="675.8" cy="519.8" r="3.8"/><circle cx="677" cy="519.8" r="3.8"/><circle cx="678.2" cy="519.8" r="3.8"/><circle cx="679.4" cy="519.8" r="3.8"/><circle cx="680.6" cy="519.8" r="3.8"/><circle cx="681.8" cy="519.8" r="3.8"/><circle cx="683" cy="519.8" r="3.8"/><circle cx="684.2" cy="519.8" r="3.8"/><circle cx="685.4" cy="519.8" r="3.8"/><circle cx="686.6" cy="519.8" r="3.8"/><circle cx="687.7" cy="519.8" r="3.8"/><circle cx="688.9" cy="519.8" r="3.8"/><circle cx="690.1" cy="519.8" r="3.8"/><circle cx="691.3" cy="519.8" r="3.8"/><circle cx="692.5" cy="519.8" r="3.8"/><circle cx="693.7" cy="519.8" r="3.8"/><circle cx="694.9" cy="519.8" r="3.8"/><circle cx="696.1" cy="519.8" r="3.8"/><circle cx="697.3" cy="519.8" r="3.8"/><circle cx="698.4" cy="519.8" r="3.8"/><circle cx="699.6" cy="519.8" r="3.8"/><circle cx="700.8" cy="519.8" r="3.8"/><circle cx="702" cy="519.8" r="3.8"/><circle cx="703.2" cy="519.8" r="3.8"/><circle cx="704.4" cy="519.8" r="3.8"/><circle cx="705.6" cy="519.8" r="3.8"/><circle cx="706.8" cy="519.8" r="3.8"/><circle cx="708" cy="519.8" r="3.8"/><circle cx="709.1" cy="519.8" r="3.8"/><circle cx="710.3" cy="519.8" r="3.8"/><circle cx="711.5" cy="519.8" r="3.8"/><circle cx="712.7" cy="519.8" r="3.8"/><circle cx="713.9" cy="519.8" r="3.8"/><circle cx="715.1" cy="519.8" r="3.8"/><circle cx="716.3" cy="519.8" r="3.8"/><circle cx="717.5" cy="519.8" r="3.8"/><circle cx="718.7" cy="519.8" r="3.8"/><circle cx="719.9" cy="519.8" r="3.8"/><circle cx="721" cy="519.8" r="3.8"/><circle cx="722.2" cy="519.8" r="3.8"/><circle cx="723.4" cy="519.8" r="3.8"/><circle cx="724.6" cy="519.8" r="3.8"/><circle cx="725.8" cy="519.8" r="3.8"/><circle cx="727" cy="519.8" r="3.8"/><circle cx="728.2" cy="519.8" r="3.8"/><circle cx="729.4" cy="519.8" r="3.8"/><circle cx="730.6" cy="519.8" r="3.8"/><circle cx="731.7" cy="519.8" r="3.8"/><circle cx="732.9" cy="519.8" r="3.8"/><circle cx="734.1" cy="519.8" r="3.8"/><circle cx="735.3" cy="519.8" r="3.8"/><circle cx="736.5" cy="519.8" r="3.8"/></g>
<path d="M427.3,311.9 L428.5,311.9 L429.7,311.9 L430.9,311.9 L432.1,311.9 L433.2,311.9 L434.4,311.9 L435.6,311.9 L436.8,311.9 L438,311.9 L439.2,317 L440.4,317 L441.6,317 L442.8,317 L443.9,317 L445.1,317 L446.3,317 L447.5,317 L448.7,317 L449.9,317 L451.1,317 L452.3,317 L453.5,317 L454.7,317 L455.8,317 L458.6,321 L461.1,325 L463.5,327.1 L464.2,327.2 L465.4,327.3 L466.5,327.4 L467.7,327.5 L468.9,327.6 L470.1,327.7 L471.5,327.8 L475.3,331.6 L475.6,335.2 L475.8,338.8 L477.1,342.8 L479.5,346.8 L481.2,351.7 L483.6,355.7 L486,359.7 L489.3,361.2 L492.5,364.6 L494.8,369.2 L497.5,371.8 L498.7,371.8 L499.8,371.8 L501.4,371.8 L501.9,376 L502.5,380.2 L505,385.5 L507,387.8 L507.4,392.3 L507.8,396.7 L511,399.9 L514.2,403.9 L518.3,407.1 L521.1,408.7 L523.9,410.2 L526.4,421.7 L530.3,422.5 L530.5,426.1 L530.6,429.7 L533.6,432 L536.8,434.1 L541.5,437.7 L543.8,439.9 L546.2,442 L549.2,445.1 L552.2,448.3 L555.1,451 L558.1,453.6 L562.6,456.6 L566.6,459.7 L569,461.7 L571.4,463.8 L576.3,464.6 L581.1,468.6 L582.7,471.5 L584.3,474.3 L587.5,478.4 L590.7,483.2 L593.9,488.1 L596.8,492.7 L599.5,496.3 L600.9,496.3 L602.1,496.3 L603.3,496.3 L604.5,496.3 L605.7,496.3 L606.9,496.3 L608.1,496.3 L609.3,496.3 L610.4,496.3 L611.6,496.3 L612.8,496.3 L614,496.3 L614.8,496.3 L617,501 L620.4,503.1 L624.6,505 L628.9,506.5 L631.6,510.3 L636,513.5 L639.7,516.6 L640.2,516.6 L641.4,516.6 L642.6,516.6 L643.7,516.6 L644.9,516.6 L646.1,516.6 L647.3,516.6 L648.5,516.6 L649.7,516.6 L650.9,516.6 L652.1,516.6 L653.3,516.6 L654.4,516.6 L655.8,516.6 L659,519 L663.8,520.7 L667.9,523.4" fill="none" stroke="#000" stroke-width="2" stroke-linejoin="round"/>
<g fill="#fff" stroke="#111" stroke-width="1.1"><circle cx="427.3" cy="311.9" r="3.5"/><circle cx="428.5" cy="311.9" r="3.5" stroke-width="0.6"/><circle cx="429.7" cy="311.9" r="3.5" stroke-width="0.6"/><circle cx="430.9" cy="311.9" r="3.5" stroke-width="0.6"/><circle cx="432.1" cy="311.9" r="3.5" stroke-width="0.6"/><circle cx="433.2" cy="311.9" r="3.5" stroke-width="0.6"/><circle cx="434.4" cy="311.9" r="3.5" stroke-width="0.6"/><circle cx="435.6" cy="311.9" r="3.5" stroke-width="0.6"/><circle cx="436.8" cy="311.9" r="3.5" stroke-width="0.6"/><circle cx="438" cy="311.9" r="3.5"/><circle cx="439.2" cy="317" r="3.5"/><circle cx="440.4" cy="317" r="3.5" stroke-width="0.6"/><circle cx="441.6" cy="317" r="3.5" stroke-width="0.6"/><circle cx="442.8" cy="317" r="3.5" stroke-width="0.6"/><circle cx="443.9" cy="317" r="3.5" stroke-width="0.6"/><circle cx="445.1" cy="317" r="3.5" stroke-width="0.6"/><circle cx="446.3" cy="317" r="3.5" stroke-width="0.6"/><circle cx="447.5" cy="317" r="3.5" stroke-width="0.6"/><circle cx="448.7" cy="317" r="3.5" stroke-width="0.6"/><circle cx="449.9" cy="317" r="3.5" stroke-width="0.6"/><circle cx="451.1" cy="317" r="3.5" stroke-width="0.6"/><circle cx="452.3" cy="317" r="3.5" stroke-width="0.6"/><circle cx="453.5" cy="317" r="3.5" stroke-width="0.6"/><circle cx="454.7" cy="317" r="3.5" stroke-width="0.6"/><circle cx="455.8" cy="317" r="3.5"/><circle cx="458.6" cy="321" r="3.5"/><circle cx="461.1" cy="325" r="3.5"/><circle cx="463.5" cy="327.1" r="3.5"/><circle cx="464.2" cy="327.2" r="3.5" stroke-width="0.6"/><circle cx="465.4" cy="327.3" r="3.5" stroke-width="0.6"/><circle cx="466.5" cy="327.4" r="3.5" stroke-width="0.6"/><circle cx="467.7" cy="327.5" r="3.5" stroke-width="0.6"/><circle cx="468.9" cy="327.6" r="3.5" stroke-width="0.6"/><circle cx="470.1" cy="327.7" r="3.5" stroke-width="0.6"/><circle cx="471.5" cy="327.8" r="3.5"/><circle cx="475.3" cy="331.6" r="3.5"/><circle cx="475.6" cy="335.2" r="3.5"/><circle cx="475.8" cy="338.8" r="3.5"/><circle cx="477.1" cy="342.8" r="3.5"/><circle cx="479.5" cy="346.8" r="3.5"/><circle cx="481.2" cy="351.7" r="3.5"/><circle cx="483.6" cy="355.7" r="3.5"/><circle cx="486" cy="359.7" r="3.5"/><circle cx="489.3" cy="361.2" r="3.5"/><circle cx="492.5" cy="364.6" r="3.5"/><circle cx="494.8" cy="369.2" r="3.5"/><circle cx="497.5" cy="371.8" r="3.5"/><circle cx="498.7" cy="371.8" r="3.5" stroke-width="0.6"/><circle cx="499.8" cy="371.8" r="3.5" stroke-width="0.6"/><circle cx="501.4" cy="371.8" r="3.5"/><circle cx="501.9" cy="376" r="3.5"/><circle cx="502.5" cy="380.2" r="3.5"/><circle cx="505" cy="385.5" r="3.5"/><circle cx="507" cy="387.8" r="3.5"/><circle cx="507.4" cy="392.3" r="3.5"/><circle cx="507.8" cy="396.7" r="3.5"/><circle cx="511" cy="399.9" r="3.5"/><circle cx="514.2" cy="403.9" r="3.5"/><circle cx="518.3" cy="407.1" r="3.5"/><circle cx="521.1" cy="408.7" r="3.5"/><circle cx="523.9" cy="410.2" r="3.5"/><circle cx="526.4" cy="421.7" r="3.5"/><circle cx="530.3" cy="422.5" r="3.5"/><circle cx="530.5" cy="426.1" r="3.5"/><circle cx="530.6" cy="429.7" r="3.5"/><circle cx="533.6" cy="432" r="3.5"/><circle cx="536.8" cy="434.1" r="3.5"/><circle cx="541.5" cy="437.7" r="3.5"/><circle cx="543.8" cy="439.9" r="3.5"/><circle cx="546.2" cy="442" r="3.5"/><circle cx="549.2" cy="445.1" r="3.5"/><circle cx="552.2" cy="448.3" r="3.5"/><circle cx="555.1" cy="451" r="3.5"/><circle cx="558.1" cy="453.6" r="3.5"/><circle cx="562.6" cy="456.6" r="3.5"/><circle cx="566.6" cy="459.7" r="3.5"/><circle cx="569" cy="461.7" r="3.5"/><circle cx="571.4" cy="463.8" r="3.5"/><circle cx="576.3" cy="464.6" r="3.5"/><circle cx="581.1" cy="468.6" r="3.5"/><circle cx="582.7" cy="471.5" r="3.5"/><circle cx="584.3" cy="474.3" r="3.5"/><circle cx="587.5" cy="478.4" r="3.5"/><circle cx="590.7" cy="483.2" r="3.5"/><circle cx="593.9" cy="488.1" r="3.5"/><circle cx="596.8" cy="492.7" r="3.5"/><circle cx="599.5" cy="496.3" r="3.5"/><circle cx="600.9" cy="496.3" r="3.5" stroke-width="0.6"/><circle cx="602.1" cy="496.3" r="3.5" stroke-width="0.6"/><circle cx="603.3" cy="496.3" r="3.5" stroke-width="0.6"/><circle cx="604.5" cy="496.3" r="3.5" stroke-width="0.6"/><circle cx="605.7" cy="496.3" r="3.5" stroke-width="0.6"/><circle cx="606.9" cy="496.3" r="3.5" stroke-width="0.6"/><circle cx="608.1" cy="496.3" r="3.5" stroke-width="0.6"/><circle cx="609.3" cy="496.3" r="3.5" stroke-width="0.6"/><circle cx="610.4" cy="496.3" r="3.5" stroke-width="0.6"/><circle cx="611.6" cy="496.3" r="3.5" stroke-width="0.6"/><circle cx="612.8" cy="496.3" r="3.5" stroke-width="0.6"/><circle cx="614" cy="496.3" r="3.5" stroke-width="0.6"/><circle cx="614.8" cy="496.3" r="3.5"/><circle cx="617" cy="501" r="3.5"/><circle cx="620.4" cy="503.1" r="3.5"/><circle cx="624.6" cy="505" r="3.5"/><circle cx="628.9" cy="506.5" r="3.5"/><circle cx="631.6" cy="510.3" r="3.5"/><circle cx="636" cy="513.5" r="3.5"/><circle cx="639.7" cy="516.6" r="3.5"/><circle cx="640.2" cy="516.6" r="3.5" stroke-width="0.6"/><circle cx="641.4" cy="516.6" r="3.5" stroke-width="0.6"/><circle cx="642.6" cy="516.6" r="3.5" stroke-width="0.6"/><circle cx="643.7" cy="516.6" r="3.5" stroke-width="0.6"/><circle cx="644.9" cy="516.6" r="3.5" stroke-width="0.6"/><circle cx="646.1" cy="516.6" r="3.5" stroke-width="0.6"/><circle cx="647.3" cy="516.6" r="3.5" stroke-width="0.6"/><circle cx="648.5" cy="516.6" r="3.5" stroke-width="0.6"/><circle cx="649.7" cy="516.6" r="3.5" stroke-width="0.6"/><circle cx="650.9" cy="516.6" r="3.5" stroke-width="0.6"/><circle cx="652.1" cy="516.6" r="3.5" stroke-width="0.6"/><circle cx="653.3" cy="516.6" r="3.5" stroke-width="0.6"/><circle cx="654.4" cy="516.6" r="3.5" stroke-width="0.6"/><circle cx="655.8" cy="516.6" r="3.5"/><circle cx="659" cy="519" r="3.5"/><circle cx="663.8" cy="520.7" r="3.5"/><circle cx="667.9" cy="523.4" r="3.5"/></g>
<path d="M427.3,311.9 L428.5,311.9 L429.7,311.9 L430.9,311.9 L432.1,311.9 L433.2,311.9 L434.4,311.9 L435.6,311.9 L436.8,311.9 L438,311.9 L439.2,311.9 L440.4,311.9 L441.6,311.9 L442.8,311.9 L443.9,311.9 L445.1,311.9 L446.3,311.9 L447.5,311.9 L448.7,311.9 L449.9,311.9 L451.1,311.9 L452.3,311.9 L453.5,311.9 L454.7,311.9 L455.8,311.9 L457,311.9 L458.2,311.9 L459.4,311.9 L462.6,315.3 L466.7,317.8 L469.1,319 L471.5,320.1 L473.9,321.7 L476.3,323.3 L478.3,325.3 L480.3,327.3 L484,328.2 L487.6,329 L492.5,329.9 L496.4,332.2 L499.2,334.7 L499.4,338.3 L499.6,341.9 L501.3,346 L502.9,348 L504.5,350 L506.1,352 L507.7,354 L510.9,356.5 L512.2,358.9 L513.4,361.2 L516.6,364.6 L517.7,366.9 L518.9,369.2 L519,372.5 L519,375.7 L519.1,378.9 L521.2,380.4 L523.4,381.9 L525.2,384.3 L527.1,386.8 L528.7,389.7 L530.3,392.7 L531.5,395 L532.8,397.3 L534.3,407.9 L535.6,411.5 L536.8,415.1 L538,417.5 L539.2,420 L540.4,422.4 L541.6,424.8 L542.8,427.7 L544,430.6 L545.2,433.3 L546.5,436.1 L547.7,438.5 L548.8,440.9 L550.4,442.9 L552.1,444.9 L553.5,447.4 L554.9,449.8 L555.9,453.6 L556.9,457.4 L558.6,468.6 L560.6,470.6 L562.6,472.6 L564.6,475.1 L566.6,477.5 L569,479.1 L571.4,480.7 L573,484 L574.6,487.2 L576.3,489.7 L577.9,492.1 L579.9,494.1 L581.9,496.1 L583.9,498.1 L585.9,500.1 L587.5,502.1 L589.2,504.2 L591.5,505.3 L593.9,506.5 L597.2,507.3 L600.5,508.2 L600.9,508.2 L602.1,508.2 L603.3,508.2 L604.5,508.2 L605.7,508.2 L606.9,508.2 L608.1,508.2 L609.3,508.2 L610.4,508.2 L611.6,508.2 L612.8,508.2 L614,508.2 L615.2,508.2 L616.4,508.2 L617.6,508.2 L620.9,511.6 L623.9,512.2 L626.9,512.8 L629.2,523.4" fill="none" stroke="#000" stroke-width="2" stroke-linejoin="round"/>
<g fill="#fff" stroke="#333" stroke-width="1"><circle cx="427.3" cy="311.9" r="3.65"/><circle cx="428.5" cy="311.9" r="3.65"/><circle cx="429.7" cy="311.9" r="3.65"/><circle cx="430.9" cy="311.9" r="3.65"/><circle cx="432.1" cy="311.9" r="3.65"/><circle cx="433.2" cy="311.9" r="3.65"/><circle cx="434.4" cy="311.9" r="3.65"/><circle cx="435.6" cy="311.9" r="3.65"/><circle cx="436.8" cy="311.9" r="3.65"/><circle cx="438" cy="311.9" r="3.65"/><circle cx="439.2" cy="311.9" r="3.65"/><circle cx="440.4" cy="311.9" r="3.65"/><circle cx="441.6" cy="311.9" r="3.65"/><circle cx="442.8" cy="311.9" r="3.65"/><circle cx="443.9" cy="311.9" r="3.65"/><circle cx="445.1" cy="311.9" r="3.65"/><circle cx="446.3" cy="311.9" r="3.65"/><circle cx="447.5" cy="311.9" r="3.65"/><circle cx="448.7" cy="311.9" r="3.65"/><circle cx="449.9" cy="311.9" r="3.65"/><circle cx="451.1" cy="311.9" r="3.65"/><circle cx="452.3" cy="311.9" r="3.65"/><circle cx="453.5" cy="311.9" r="3.65"/><circle cx="454.7" cy="311.9" r="3.65"/><circle cx="455.8" cy="311.9" r="3.65"/><circle cx="457" cy="311.9" r="3.65"/><circle cx="458.2" cy="311.9" r="3.65"/><circle cx="459.4" cy="311.9" r="3.65"/><circle cx="462.6" cy="315.3" r="3.65"/><circle cx="466.7" cy="317.8" r="3.65"/><circle cx="469.1" cy="319" r="3.65"/><circle cx="471.5" cy="320.1" r="3.65"/><circle cx="473.9" cy="321.7" r="3.65"/><circle cx="476.3" cy="323.3" r="3.65"/><circle cx="478.3" cy="325.3" r="3.65"/><circle cx="480.3" cy="327.3" r="3.65"/><circle cx="484" cy="328.2" r="3.65"/><circle cx="487.6" cy="329" r="3.65"/><circle cx="492.5" cy="329.9" r="3.65"/><circle cx="496.4" cy="332.2" r="3.65"/><circle cx="499.2" cy="334.7" r="3.65"/><circle cx="499.4" cy="338.3" r="3.65"/><circle cx="499.6" cy="341.9" r="3.65"/><circle cx="501.3" cy="346" r="3.65"/><circle cx="502.9" cy="348" r="3.65"/><circle cx="504.5" cy="350" r="3.65"/><circle cx="506.1" cy="352" r="3.65"/><circle cx="507.7" cy="354" r="3.65"/><circle cx="510.9" cy="356.5" r="3.65"/><circle cx="512.2" cy="358.9" r="3.65"/><circle cx="513.4" cy="361.2" r="3.65"/><circle cx="516.6" cy="364.6" r="3.65"/><circle cx="517.7" cy="366.9" r="3.65"/><circle cx="518.9" cy="369.2" r="3.65"/><circle cx="519" cy="372.5" r="3.65"/><circle cx="519" cy="375.7" r="3.65"/><circle cx="519.1" cy="378.9" r="3.65"/><circle cx="521.2" cy="380.4" r="3.65"/><circle cx="523.4" cy="381.9" r="3.65"/><circle cx="525.2" cy="384.3" r="3.65"/><circle cx="527.1" cy="386.8" r="3.65"/><circle cx="528.7" cy="389.7" r="3.65"/><circle cx="530.3" cy="392.7" r="3.65"/><circle cx="531.5" cy="395" r="3.65"/><circle cx="532.8" cy="397.3" r="3.65"/><circle cx="534.3" cy="407.9" r="3.65"/><circle cx="535.6" cy="411.5" r="3.65"/><circle cx="536.8" cy="415.1" r="3.65"/><circle cx="538" cy="417.5" r="3.65"/><circle cx="539.2" cy="420" r="3.65"/><circle cx="540.4" cy="422.4" r="3.65"/><circle cx="541.6" cy="424.8" r="3.65"/><circle cx="542.8" cy="427.7" r="3.65"/><circle cx="544" cy="430.6" r="3.65"/><circle cx="545.2" cy="433.3" r="3.65"/><circle cx="546.5" cy="436.1" r="3.65"/><circle cx="547.7" cy="438.5" r="3.65"/><circle cx="548.8" cy="440.9" r="3.65"/><circle cx="550.4" cy="442.9" r="3.65"/><circle cx="552.1" cy="444.9" r="3.65"/><circle cx="553.5" cy="447.4" r="3.65"/><circle cx="554.9" cy="449.8" r="3.65"/><circle cx="555.9" cy="453.6" r="3.65"/><circle cx="556.9" cy="457.4" r="3.65"/><circle cx="558.6" cy="468.6" r="3.65"/><circle cx="560.6" cy="470.6" r="3.65"/><circle cx="562.6" cy="472.6" r="3.65"/><circle cx="564.6" cy="475.1" r="3.65"/><circle cx="566.6" cy="477.5" r="3.65"/><circle cx="569" cy="479.1" r="3.65"/><circle cx="571.4" cy="480.7" r="3.65"/><circle cx="573" cy="484" r="3.65"/><circle cx="574.6" cy="487.2" r="3.65"/><circle cx="576.3" cy="489.7" r="3.65"/><circle cx="577.9" cy="492.1" r="3.65"/><circle cx="579.9" cy="494.1" r="3.65"/><circle cx="581.9" cy="496.1" r="3.65"/><circle cx="583.9" cy="498.1" r="3.65"/><circle cx="585.9" cy="500.1" r="3.65"/><circle cx="587.5" cy="502.1" r="3.65"/><circle cx="589.2" cy="504.2" r="3.65"/><circle cx="591.5" cy="505.3" r="3.65"/><circle cx="593.9" cy="506.5" r="3.65"/><circle cx="597.2" cy="507.3" r="3.65"/><circle cx="600.5" cy="508.2" r="3.65"/><circle cx="600.9" cy="508.2" r="3.65"/><circle cx="602.1" cy="508.2" r="3.65"/><circle cx="603.3" cy="508.2" r="3.65"/><circle cx="604.5" cy="508.2" r="3.65"/><circle cx="605.7" cy="508.2" r="3.65"/><circle cx="606.9" cy="508.2" r="3.65"/><circle cx="608.1" cy="508.2" r="3.65"/><circle cx="609.3" cy="508.2" r="3.65"/><circle cx="610.4" cy="508.2" r="3.65"/><circle cx="611.6" cy="508.2" r="3.65"/><circle cx="612.8" cy="508.2" r="3.65"/><circle cx="614" cy="508.2" r="3.65"/><circle cx="615.2" cy="508.2" r="3.65"/><circle cx="616.4" cy="508.2" r="3.65"/><circle cx="617.6" cy="508.2" r="3.65"/><circle cx="620.9" cy="511.6" r="3.65"/><circle cx="623.9" cy="512.2" r="3.65"/><circle cx="626.9" cy="512.8" r="3.65"/><circle cx="629.2" cy="523.4" r="3.65"/></g>
<clipPath id="cD"><circle cx="427.3" cy="311.9" r="3.55"/><circle cx="428.5" cy="311.9" r="3.55"/><circle cx="429.7" cy="311.9" r="3.55"/><circle cx="430.9" cy="311.9" r="3.55"/><circle cx="432.1" cy="311.9" r="3.55"/><circle cx="433.2" cy="311.9" r="3.55"/><circle cx="434.4" cy="311.9" r="3.55"/><circle cx="435.6" cy="311.9" r="3.55"/><circle cx="436.8" cy="311.9" r="3.55"/><circle cx="438" cy="311.9" r="3.55"/><circle cx="439.2" cy="311.9" r="3.55"/><circle cx="440.4" cy="311.9" r="3.55"/><circle cx="441.6" cy="311.9" r="3.55"/><circle cx="442.8" cy="311.9" r="3.55"/><circle cx="443.9" cy="311.9" r="3.55"/><circle cx="445.1" cy="311.9" r="3.55"/><circle cx="446.3" cy="311.9" r="3.55"/><circle cx="447.5" cy="311.9" r="3.55"/><circle cx="448.7" cy="311.9" r="3.55"/><circle cx="449.9" cy="311.9" r="3.55"/><circle cx="451.1" cy="311.9" r="3.55"/><circle cx="452.3" cy="311.9" r="3.55"/><circle cx="453.5" cy="311.9" r="3.55"/><circle cx="454.7" cy="311.9" r="3.55"/><circle cx="455.8" cy="311.9" r="3.55"/><circle cx="457" cy="311.9" r="3.55"/><circle cx="458.2" cy="311.9" r="3.55"/><circle cx="459.4" cy="311.9" r="3.55"/><circle cx="462.6" cy="315.3" r="3.55"/><circle cx="466.7" cy="317.8" r="3.55"/><circle cx="469.1" cy="319" r="3.55"/><circle cx="471.5" cy="320.1" r="3.55"/><circle cx="473.9" cy="321.7" r="3.55"/><circle cx="476.3" cy="323.3" r="3.55"/><circle cx="478.3" cy="325.3" r="3.55"/><circle cx="480.3" cy="327.3" r="3.55"/><circle cx="484" cy="328.2" r="3.55"/><circle cx="487.6" cy="329" r="3.55"/><circle cx="492.5" cy="329.9" r="3.55"/><circle cx="496.4" cy="332.2" r="3.55"/><circle cx="499.2" cy="334.7" r="3.55"/><circle cx="499.4" cy="338.3" r="3.55"/><circle cx="499.6" cy="341.9" r="3.55"/><circle cx="501.3" cy="346" r="3.55"/><circle cx="502.9" cy="348" r="3.55"/><circle cx="504.5" cy="350" r="3.55"/><circle cx="506.1" cy="352" r="3.55"/><circle cx="507.7" cy="354" r="3.55"/><circle cx="510.9" cy="356.5" r="3.55"/><circle cx="512.2" cy="358.9" r="3.55"/><circle cx="513.4" cy="361.2" r="3.55"/><circle cx="516.6" cy="364.6" r="3.55"/><circle cx="517.7" cy="366.9" r="3.55"/><circle cx="518.9" cy="369.2" r="3.55"/><circle cx="519" cy="372.5" r="3.55"/><circle cx="519" cy="375.7" r="3.55"/><circle cx="519.1" cy="378.9" r="3.55"/><circle cx="521.2" cy="380.4" r="3.55"/><circle cx="523.4" cy="381.9" r="3.55"/><circle cx="525.2" cy="384.3" r="3.55"/><circle cx="527.1" cy="386.8" r="3.55"/><circle cx="528.7" cy="389.7" r="3.55"/><circle cx="530.3" cy="392.7" r="3.55"/><circle cx="531.5" cy="395" r="3.55"/><circle cx="532.8" cy="397.3" r="3.55"/><circle cx="534.3" cy="407.9" r="3.55"/><circle cx="535.6" cy="411.5" r="3.55"/><circle cx="536.8" cy="415.1" r="3.55"/><circle cx="538" cy="417.5" r="3.55"/><circle cx="539.2" cy="420" r="3.55"/><circle cx="540.4" cy="422.4" r="3.55"/><circle cx="541.6" cy="424.8" r="3.55"/><circle cx="542.8" cy="427.7" r="3.55"/><circle cx="544" cy="430.6" r="3.55"/><circle cx="545.2" cy="433.3" r="3.55"/><circle cx="546.5" cy="436.1" r="3.55"/><circle cx="547.7" cy="438.5" r="3.55"/><circle cx="548.8" cy="440.9" r="3.55"/><circle cx="550.4" cy="442.9" r="3.55"/><circle cx="552.1" cy="444.9" r="3.55"/><circle cx="553.5" cy="447.4" r="3.55"/><circle cx="554.9" cy="449.8" r="3.55"/><circle cx="555.9" cy="453.6" r="3.55"/><circle cx="556.9" cy="457.4" r="3.55"/><circle cx="558.6" cy="468.6" r="3.55"/><circle cx="560.6" cy="470.6" r="3.55"/><circle cx="562.6" cy="472.6" r="3.55"/><circle cx="564.6" cy="475.1" r="3.55"/><circle cx="566.6" cy="477.5" r="3.55"/><circle cx="569" cy="479.1" r="3.55"/><circle cx="571.4" cy="480.7" r="3.55"/><circle cx="573" cy="484" r="3.55"/><circle cx="574.6" cy="487.2" r="3.55"/><circle cx="576.3" cy="489.7" r="3.55"/><circle cx="577.9" cy="492.1" r="3.55"/><circle cx="579.9" cy="494.1" r="3.55"/><circle cx="581.9" cy="496.1" r="3.55"/><circle cx="583.9" cy="498.1" r="3.55"/><circle cx="585.9" cy="500.1" r="3.55"/><circle cx="587.5" cy="502.1" r="3.55"/><circle cx="589.2" cy="504.2" r="3.55"/><circle cx="591.5" cy="505.3" r="3.55"/><circle cx="593.9" cy="506.5" r="3.55"/><circle cx="597.2" cy="507.3" r="3.55"/><circle cx="600.5" cy="508.2" r="3.55"/><circle cx="600.9" cy="508.2" r="3.55"/><circle cx="602.1" cy="508.2" r="3.55"/><circle cx="603.3" cy="508.2" r="3.55"/><circle cx="604.5" cy="508.2" r="3.55"/><circle cx="605.7" cy="508.2" r="3.55"/><circle cx="606.9" cy="508.2" r="3.55"/><circle cx="608.1" cy="508.2" r="3.55"/><circle cx="609.3" cy="508.2" r="3.55"/><circle cx="610.4" cy="508.2" r="3.55"/><circle cx="611.6" cy="508.2" r="3.55"/><circle cx="612.8" cy="508.2" r="3.55"/><circle cx="614" cy="508.2" r="3.55"/><circle cx="615.2" cy="508.2" r="3.55"/><circle cx="616.4" cy="508.2" r="3.55"/><circle cx="617.6" cy="508.2" r="3.55"/><circle cx="620.9" cy="511.6" r="3.55"/><circle cx="623.9" cy="512.2" r="3.55"/><circle cx="626.9" cy="512.8" r="3.55"/><circle cx="629.2" cy="523.4" r="3.55"/></clipPath>
<path clip-path="url(#cD)" d="M257.6,527.4L422.3,307.9M259.9,527.4L424.6,307.9M262.2,527.4L426.9,307.9M264.5,527.4L429.2,307.9M266.8,527.4L431.5,307.9M269.1,527.4L433.8,307.9M271.4,527.4L436.1,307.9M273.7,527.4L438.4,307.9M276,527.4L440.7,307.9M278.3,527.4L443,307.9M280.6,527.4L445.3,307.9M282.9,527.4L447.6,307.9M285.2,527.4L449.9,307.9M287.5,527.4L452.2,307.9M289.8,527.4L454.5,307.9M292.1,527.4L456.8,307.9M294.4,527.4L459.1,307.9M296.7,527.4L461.4,307.9M299,527.4L463.7,307.9M301.3,527.4L466,307.9M303.6,527.4L468.3,307.9M305.9,527.4L470.6,307.9M308.2,527.4L472.9,307.9M310.5,527.4L475.2,307.9M312.8,527.4L477.5,307.9M315.1,527.4L479.8,307.9M317.4,527.4L482.1,307.9M319.7,527.4L484.4,307.9M322,527.4L486.7,307.9M324.3,527.4L489,307.9M326.6,527.4L491.3,307.9M328.9,527.4L493.6,307.9M331.2,527.4L495.9,307.9M333.5,527.4L498.2,307.9M335.8,527.4L500.5,307.9M338.1,527.4L502.8,307.9M340.4,527.4L505.1,307.9M342.7,527.4L507.4,307.9M345,527.4L509.7,307.9M347.3,527.4L512,307.9M349.6,527.4L514.3,307.9M351.9,527.4L516.6,307.9M354.2,527.4L518.9,307.9M356.5,527.4L521.2,307.9M358.8,527.4L523.5,307.9M361.1,527.4L525.8,307.9M363.4,527.4L528.1,307.9M365.7,527.4L530.4,307.9M368,527.4L532.7,307.9M370.3,527.4L535,307.9M372.6,527.4L537.3,307.9M374.9,527.4L539.6,307.9M377.2,527.4L541.9,307.9M379.5,527.4L544.2,307.9M381.8,527.4L546.5,307.9M384.1,527.4L548.8,307.9M386.4,527.4L551.1,307.9M388.7,527.4L553.4,307.9M391,527.4L555.7,307.9M393.3,527.4L558,307.9M395.6,527.4L560.3,307.9M397.9,527.4L562.6,307.9M400.2,527.4L564.9,307.9M402.5,527.4L567.2,307.9M404.8,527.4L569.5,307.9M407.1,527.4L571.8,307.9M409.4,527.4L574.1,307.9M411.7,527.4L576.4,307.9M414,527.4L578.7,307.9M416.3,527.4L581,307.9M418.6,527.4L583.3,307.9M420.9,527.4L585.6,307.9M423.2,527.4L587.9,307.9M425.5,527.4L590.2,307.9M427.8,527.4L592.5,307.9M430.1,527.4L594.8,307.9M432.4,527.4L597.1,307.9M434.7,527.4L599.4,307.9M437,527.4L601.7,307.9M439.3,527.4L604,307.9M441.6,527.4L606.3,307.9M443.9,527.4L608.6,307.9M446.2,527.4L610.9,307.9M448.5,527.4L613.2,307.9M450.8,527.4L615.5,307.9M453.1,527.4L617.8,307.9M455.4,527.4L620.1,307.9M457.7,527.4L622.4,307.9M460,527.4L624.7,307.9M462.3,527.4L627,307.9M464.6,527.4L629.3,307.9M466.9,527.4L631.6,307.9M469.2,527.4L633.9,307.9M471.5,527.4L636.2,307.9M473.8,527.4L638.5,307.9M476.1,527.4L640.8,307.9M478.4,527.4L643.1,307.9M480.7,527.4L645.4,307.9M483,527.4L647.7,307.9M485.3,527.4L650,307.9M487.6,527.4L652.3,307.9M489.9,527.4L654.6,307.9M492.2,527.4L656.9,307.9M494.5,527.4L659.2,307.9M496.8,527.4L661.5,307.9M499.1,527.4L663.8,307.9M501.4,527.4L666.1,307.9M503.7,527.4L668.4,307.9M506,527.4L670.7,307.9M508.3,527.4L673,307.9M510.6,527.4L675.3,307.9M512.9,527.4L677.6,307.9M515.2,527.4L679.9,307.9M517.5,527.4L682.2,307.9M519.8,527.4L684.5,307.9M522.1,527.4L686.8,307.9M524.4,527.4L689.1,307.9M526.7,527.4L691.4,307.9M529,527.4L693.7,307.9M531.3,527.4L696,307.9M533.6,527.4L698.3,307.9M535.9,527.4L700.6,307.9M538.2,527.4L702.9,307.9M540.5,527.4L705.2,307.9M542.8,527.4L707.5,307.9M545.1,527.4L709.8,307.9M547.4,527.4L712.1,307.9M549.7,527.4L714.4,307.9M552,527.4L716.7,307.9M554.3,527.4L719,307.9M556.6,527.4L721.3,307.9M558.9,527.4L723.6,307.9M561.2,527.4L725.9,307.9M563.5,527.4L728.2,307.9M565.8,527.4L730.5,307.9M568.1,527.4L732.8,307.9M570.4,527.4L735.1,307.9M572.7,527.4L737.4,307.9M575,527.4L739.7,307.9M577.3,527.4L742,307.9M579.6,527.4L744.3,307.9M581.9,527.4L746.6,307.9M584.2,527.4L748.9,307.9M586.5,527.4L751.2,307.9M588.8,527.4L753.5,307.9M591.1,527.4L755.8,307.9M593.4,527.4L758.1,307.9M595.7,527.4L760.4,307.9M598,527.4L762.7,307.9M600.3,527.4L765,307.9M602.6,527.4L767.3,307.9M604.9,527.4L769.6,307.9M607.2,527.4L771.9,307.9M609.5,527.4L774.2,307.9M611.8,527.4L776.5,307.9M614.1,527.4L778.8,307.9M616.4,527.4L781.1,307.9M618.7,527.4L783.4,307.9M621,527.4L785.7,307.9M623.3,527.4L788,307.9M625.6,527.4L790.3,307.9M627.9,527.4L792.6,307.9M630.2,527.4L794.9,307.9M632.5,527.4L797.2,307.9" fill="none" stroke="#111" stroke-width="1.12"/>
<path d="M427.3,311.9 V523.4 H736.5 M423.8,523.4 H427.3 M423.8,502.2 H427.3 M423.8,481.1 H427.3 M423.8,459.9 H427.3 M423.8,438.8 H427.3 M423.8,417.6 H427.3 M423.8,396.5 H427.3 M423.8,375.3 H427.3 M423.8,354.2 H427.3 M423.8,333 H427.3 M423.8,311.9 H427.3 M427.3,523.4 V527.4 M439.2,523.4 V526 M451.1,523.4 V527.4 M463,523.4 V526 M474.9,523.4 V527.4 M486.8,523.4 V526 M498.7,523.4 V527.4 M510.5,523.4 V526 M522.4,523.4 V527.4 M534.3,523.4 V526 M546.2,523.4 V527.4 M558.1,523.4 V526 M570,523.4 V527.4 M581.9,523.4 V526 M593.8,523.4 V527.4 M605.7,523.4 V526 M617.6,523.4 V527.4 M629.5,523.4 V526 M641.4,523.4 V527.4 M653.3,523.4 V526 M665.1,523.4 V527.4 M677,523.4 V526 M688.9,523.4 V527.4 M700.8,523.4 V526 M712.7,523.4 V527.4 M724.6,523.4 V526 M736.5,523.4 V527.4" fill="none" stroke="#606060" stroke-width="1"/>
<text class="tk" x="420.3" y="526.7" text-anchor="end">0</text><text class="tk" x="420.3" y="505.6" text-anchor="end">10</text><text class="tk" x="420.3" y="484.4" text-anchor="end">20</text><text class="tk" x="420.3" y="463.2" text-anchor="end">30</text><text class="tk" x="420.3" y="442.1" text-anchor="end">40</text><text class="tk" x="420.3" y="420.9" text-anchor="end">50</text><text class="tk" x="420.3" y="399.8" text-anchor="end">60</text><text class="tk" x="420.3" y="378.6" text-anchor="end">70</text><text class="tk" x="420.3" y="357.5" text-anchor="end">80</text><text class="tk" x="420.3" y="336.3" text-anchor="end">90</text><text class="tk" x="420.3" y="315.2" text-anchor="end">100</text><text class="tk" x="427.3" y="540.3" text-anchor="middle">0</text><text class="tk" x="451.1" y="540.3" text-anchor="middle">20</text><text class="tk" x="474.9" y="540.3" text-anchor="middle">40</text><text class="tk" x="498.7" y="540.3" text-anchor="middle">60</text><text class="tk" x="522.4" y="540.3" text-anchor="middle">80</text><text class="tk" x="546.2" y="540.3" text-anchor="middle">100</text><text class="tk" x="570" y="540.3" text-anchor="middle">120</text><text class="tk" x="593.8" y="540.3" text-anchor="middle">140</text><text class="tk" x="617.6" y="540.3" text-anchor="middle">160</text><text class="tk" x="641.4" y="540.3" text-anchor="middle">180</text><text class="tk" x="665.1" y="540.3" text-anchor="middle">200</text><text class="tk" x="688.9" y="540.3" text-anchor="middle">220</text><text class="tk" x="712.7" y="540.3" text-anchor="middle">240</text><text class="tk" x="736.5" y="540.3" text-anchor="middle">260</text>
<text class="ti" transform="translate(399,410.5) rotate(-90)" text-anchor="middle">Live cells [%]</text>
<text class="ti" x="600" y="555.4" text-anchor="middle">Time [h]</text>
<text class="lb" x="395" y="302.4">D</text>
<path d="M689.3,317.2 H707.6" stroke="#000" stroke-width="2"/><g fill="#000" stroke="none"><circle cx="698.3" cy="317.2" r="3.8"/></g><text class="lg" x="708.4" y="321.2">WT</text>
<path d="M689.3,331.4 H707.6" stroke="#000" stroke-width="2"/><g fill="#fff" stroke="#111" stroke-width="1.1"><circle cx="698.3" cy="331.4" r="3.5"/></g><text class="lg" transform="translate(708.4,335.4) skewX(-14)">Δ</text><text class="lg it" x="715.7" y="335.4">sod1</text>
<path d="M689.3,345.6 H707.6" stroke="#000" stroke-width="2"/><g fill="#fff" stroke="#333" stroke-width="1"><circle cx="698.3" cy="345.6" r="3.65"/></g><path d="M694.94,346.09L697.82,342.23M695.84,347.95L699.86,342.58M697.43,348.89L701.21,343.85M699.99,348.55L701.61,346.39" fill="none" stroke="#111" stroke-width="1.12"/><text class="lg" transform="translate(708.4,349.6) skewX(-14)">Δ</text><text class="lg it" x="715.7" y="349.6">fob1</text>
</g>
</svg>
</body></html>
